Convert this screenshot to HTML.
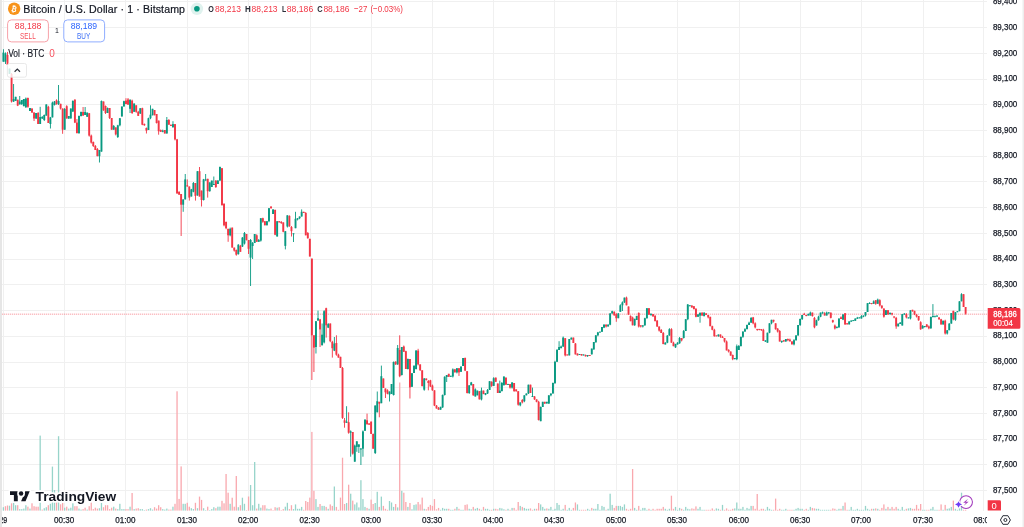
<!DOCTYPE html>
<html><head><meta charset="utf-8"><title>Bitcoin / U.S. Dollar · 1 · Bitstamp</title>
<style>
html,body{margin:0;padding:0;background:#fff;}
body{width:1024px;height:527px;overflow:hidden;position:relative;font-family:'Liberation Sans', sans-serif;}
svg{position:absolute;left:0;top:0;}
text{font-family:'Liberation Sans', sans-serif;}
</style></head><body>
<svg width="1024" height="527" viewBox="0 0 1024 527">
<defs><clipPath id="pane"><rect x="2" y="0" width="985" height="511"/></clipPath>
<clipPath id="taxis"><rect x="2" y="511" width="985" height="16"/></clipPath></defs>
<g clip-path="url(#pane)">
<rect x="2" y="1" width="985" height="1" fill="#f0f0f0"/><rect x="2" y="27" width="985" height="1" fill="#f0f0f0"/><rect x="2" y="53" width="985" height="1" fill="#f0f0f0"/><rect x="2" y="79" width="985" height="1" fill="#f0f0f0"/><rect x="2" y="104" width="985" height="1" fill="#f0f0f0"/><rect x="2" y="130" width="985" height="1" fill="#f0f0f0"/><rect x="2" y="156" width="985" height="1" fill="#f0f0f0"/><rect x="2" y="181" width="985" height="1" fill="#f0f0f0"/><rect x="2" y="207" width="985" height="1" fill="#f0f0f0"/><rect x="2" y="233" width="985" height="1" fill="#f0f0f0"/><rect x="2" y="259" width="985" height="1" fill="#f0f0f0"/><rect x="2" y="284" width="985" height="1" fill="#f0f0f0"/><rect x="2" y="310" width="985" height="1" fill="#f0f0f0"/><rect x="2" y="336" width="985" height="1" fill="#f0f0f0"/><rect x="2" y="362" width="985" height="1" fill="#f0f0f0"/><rect x="2" y="387" width="985" height="1" fill="#f0f0f0"/><rect x="2" y="413" width="985" height="1" fill="#f0f0f0"/><rect x="2" y="439" width="985" height="1" fill="#f0f0f0"/><rect x="2" y="464" width="985" height="1" fill="#f0f0f0"/><rect x="2" y="490" width="985" height="1" fill="#f0f0f0"/><rect x="3" y="0" width="1" height="511" fill="#f0f0f0"/><rect x="64" y="0" width="1" height="511" fill="#f0f0f0"/><rect x="125" y="0" width="1" height="511" fill="#f0f0f0"/><rect x="187" y="0" width="1" height="511" fill="#f0f0f0"/><rect x="248" y="0" width="1" height="511" fill="#f0f0f0"/><rect x="310" y="0" width="1" height="511" fill="#f0f0f0"/><rect x="371" y="0" width="1" height="511" fill="#f0f0f0"/><rect x="432" y="0" width="1" height="511" fill="#f0f0f0"/><rect x="493" y="0" width="1" height="511" fill="#f0f0f0"/><rect x="554" y="0" width="1" height="511" fill="#f0f0f0"/><rect x="616" y="0" width="1" height="511" fill="#f0f0f0"/><rect x="677" y="0" width="1" height="511" fill="#f0f0f0"/><rect x="739" y="0" width="1" height="511" fill="#f0f0f0"/><rect x="800" y="0" width="1" height="511" fill="#f0f0f0"/><rect x="861" y="0" width="1" height="511" fill="#f0f0f0"/><rect x="923" y="0" width="1" height="511" fill="#f0f0f0"/><rect x="983" y="0" width="1" height="511" fill="#f0f0f0"/>
<rect x="2.75" y="507.20" width="1.3" height="3.40" fill="#97d4ca"/><rect x="4.79" y="506.20" width="1.3" height="4.40" fill="#f9a8ae"/><rect x="6.84" y="505.50" width="1.3" height="5.10" fill="#f9a8ae"/><rect x="8.88" y="505.70" width="1.3" height="4.90" fill="#97d4ca"/><rect x="10.92" y="503.30" width="1.3" height="7.30" fill="#f9a8ae"/><rect x="12.96" y="502.80" width="1.3" height="7.80" fill="#97d4ca"/><rect x="15.01" y="505.20" width="1.3" height="5.40" fill="#97d4ca"/><rect x="17.05" y="505.20" width="1.3" height="5.40" fill="#f9a8ae"/><rect x="19.09" y="509.10" width="1.3" height="1.50" fill="#97d4ca"/><rect x="21.14" y="509.10" width="1.3" height="1.50" fill="#97d4ca"/><rect x="23.18" y="508.60" width="1.3" height="2.00" fill="#97d4ca"/><rect x="25.22" y="505.20" width="1.3" height="5.40" fill="#97d4ca"/><rect x="27.26" y="506.70" width="1.3" height="3.90" fill="#f9a8ae"/><rect x="29.31" y="508.60" width="1.3" height="2.00" fill="#97d4ca"/><rect x="31.35" y="503.30" width="1.3" height="7.30" fill="#f9a8ae"/><rect x="33.39" y="506.20" width="1.3" height="4.40" fill="#f9a8ae"/><rect x="35.44" y="506.70" width="1.3" height="3.90" fill="#f9a8ae"/><rect x="37.48" y="506.70" width="1.3" height="3.90" fill="#f9a8ae"/><rect x="39.52" y="435.60" width="1.3" height="75.00" fill="#97d4ca"/><rect x="41.57" y="509.60" width="1.3" height="1.00" fill="#f9a8ae"/><rect x="43.61" y="508.20" width="1.3" height="2.40" fill="#97d4ca"/><rect x="45.65" y="507.20" width="1.3" height="3.40" fill="#97d4ca"/><rect x="47.69" y="505.20" width="1.3" height="5.40" fill="#f9a8ae"/><rect x="49.74" y="503.80" width="1.3" height="6.80" fill="#97d4ca"/><rect x="51.78" y="466.60" width="1.3" height="44.00" fill="#97d4ca"/><rect x="53.82" y="490.00" width="1.3" height="20.60" fill="#97d4ca"/><rect x="55.87" y="501.80" width="1.3" height="8.80" fill="#f9a8ae"/><rect x="57.91" y="436.20" width="1.3" height="74.40" fill="#97d4ca"/><rect x="59.95" y="504.30" width="1.3" height="6.30" fill="#f9a8ae"/><rect x="61.99" y="502.80" width="1.3" height="7.80" fill="#f9a8ae"/><rect x="64.04" y="507.70" width="1.3" height="2.90" fill="#97d4ca"/><rect x="66.08" y="506.70" width="1.3" height="3.90" fill="#f9a8ae"/><rect x="68.12" y="508.60" width="1.3" height="2.00" fill="#97d4ca"/><rect x="70.17" y="507.70" width="1.3" height="2.90" fill="#97d4ca"/><rect x="72.21" y="503.30" width="1.3" height="7.30" fill="#97d4ca"/><rect x="74.25" y="506.20" width="1.3" height="4.40" fill="#f9a8ae"/><rect x="76.29" y="506.20" width="1.3" height="4.40" fill="#f9a8ae"/><rect x="78.34" y="508.60" width="1.3" height="2.00" fill="#97d4ca"/><rect x="80.38" y="509.60" width="1.3" height="1.00" fill="#97d4ca"/><rect x="82.42" y="509.10" width="1.3" height="1.50" fill="#f9a8ae"/><rect x="84.47" y="507.70" width="1.3" height="2.90" fill="#f9a8ae"/><rect x="86.51" y="509.60" width="1.3" height="1.00" fill="#97d4ca"/><rect x="88.55" y="506.20" width="1.3" height="4.40" fill="#f9a8ae"/><rect x="90.59" y="501.30" width="1.3" height="9.30" fill="#f9a8ae"/><rect x="92.64" y="509.10" width="1.3" height="1.50" fill="#f9a8ae"/><rect x="94.68" y="507.70" width="1.3" height="2.90" fill="#f9a8ae"/><rect x="96.72" y="508.60" width="1.3" height="2.00" fill="#f9a8ae"/><rect x="98.77" y="508.20" width="1.3" height="2.40" fill="#97d4ca"/><rect x="100.81" y="502.80" width="1.3" height="7.80" fill="#97d4ca"/><rect x="102.85" y="507.20" width="1.3" height="3.40" fill="#f9a8ae"/><rect x="104.89" y="505.20" width="1.3" height="5.40" fill="#f9a8ae"/><rect x="106.94" y="505.20" width="1.3" height="5.40" fill="#f9a8ae"/><rect x="108.98" y="509.10" width="1.3" height="1.50" fill="#f9a8ae"/><rect x="111.02" y="507.70" width="1.3" height="2.90" fill="#f9a8ae"/><rect x="113.07" y="506.70" width="1.3" height="3.90" fill="#97d4ca"/><rect x="115.11" y="508.60" width="1.3" height="2.00" fill="#f9a8ae"/><rect x="117.15" y="509.10" width="1.3" height="1.50" fill="#97d4ca"/><rect x="119.20" y="503.80" width="1.3" height="6.80" fill="#97d4ca"/><rect x="121.24" y="509.10" width="1.3" height="1.50" fill="#97d4ca"/><rect x="123.28" y="509.10" width="1.3" height="1.50" fill="#97d4ca"/><rect x="125.32" y="509.10" width="1.3" height="1.50" fill="#f9a8ae"/><rect x="127.37" y="509.10" width="1.3" height="1.50" fill="#f9a8ae"/><rect x="129.41" y="506.70" width="1.3" height="3.90" fill="#97d4ca"/><rect x="131.45" y="493.00" width="1.3" height="17.60" fill="#f9a8ae"/><rect x="133.50" y="509.10" width="1.3" height="1.50" fill="#97d4ca"/><rect x="135.54" y="508.60" width="1.3" height="2.00" fill="#f9a8ae"/><rect x="137.58" y="508.20" width="1.3" height="2.40" fill="#f9a8ae"/><rect x="139.62" y="509.10" width="1.3" height="1.50" fill="#97d4ca"/><rect x="141.67" y="509.10" width="1.3" height="1.50" fill="#97d4ca"/><rect x="143.71" y="510.10" width="1.3" height="0.50" fill="#97d4ca"/><rect x="145.75" y="509.60" width="1.3" height="1.00" fill="#f9a8ae"/><rect x="147.80" y="509.10" width="1.3" height="1.50" fill="#97d4ca"/><rect x="149.84" y="508.20" width="1.3" height="2.40" fill="#97d4ca"/><rect x="151.88" y="509.60" width="1.3" height="1.00" fill="#97d4ca"/><rect x="153.92" y="507.20" width="1.3" height="3.40" fill="#f9a8ae"/><rect x="155.97" y="508.60" width="1.3" height="2.00" fill="#f9a8ae"/><rect x="158.01" y="505.20" width="1.3" height="5.40" fill="#f9a8ae"/><rect x="160.05" y="507.20" width="1.3" height="3.40" fill="#f9a8ae"/><rect x="162.10" y="509.10" width="1.3" height="1.50" fill="#97d4ca"/><rect x="164.14" y="509.60" width="1.3" height="1.00" fill="#97d4ca"/><rect x="166.18" y="508.60" width="1.3" height="2.00" fill="#97d4ca"/><rect x="168.22" y="509.60" width="1.3" height="1.00" fill="#f9a8ae"/><rect x="170.27" y="509.60" width="1.3" height="1.00" fill="#f9a8ae"/><rect x="172.31" y="506.70" width="1.3" height="3.90" fill="#97d4ca"/><rect x="174.35" y="503.80" width="1.3" height="6.80" fill="#f9a8ae"/><rect x="176.40" y="391.30" width="1.3" height="119.30" fill="#f9a8ae"/><rect x="178.44" y="498.90" width="1.3" height="11.70" fill="#f9a8ae"/><rect x="180.48" y="466.40" width="1.3" height="44.20" fill="#f9a8ae"/><rect x="182.53" y="503.80" width="1.3" height="6.80" fill="#97d4ca"/><rect x="184.57" y="503.80" width="1.3" height="6.80" fill="#97d4ca"/><rect x="186.61" y="502.80" width="1.3" height="7.80" fill="#f9a8ae"/><rect x="188.65" y="506.70" width="1.3" height="3.90" fill="#f9a8ae"/><rect x="190.70" y="508.20" width="1.3" height="2.40" fill="#97d4ca"/><rect x="192.74" y="509.10" width="1.3" height="1.50" fill="#97d4ca"/><rect x="194.78" y="502.80" width="1.3" height="7.80" fill="#f9a8ae"/><rect x="196.83" y="508.20" width="1.3" height="2.40" fill="#97d4ca"/><rect x="198.87" y="496.60" width="1.3" height="14.00" fill="#f9a8ae"/><rect x="200.91" y="499.90" width="1.3" height="10.70" fill="#f9a8ae"/><rect x="202.95" y="508.20" width="1.3" height="2.40" fill="#97d4ca"/><rect x="205.00" y="510.10" width="1.3" height="0.50" fill="#97d4ca"/><rect x="207.04" y="506.70" width="1.3" height="3.90" fill="#f9a8ae"/><rect x="209.08" y="510.10" width="1.3" height="0.50" fill="#97d4ca"/><rect x="211.13" y="509.10" width="1.3" height="1.50" fill="#97d4ca"/><rect x="213.17" y="507.20" width="1.3" height="3.40" fill="#97d4ca"/><rect x="215.21" y="508.20" width="1.3" height="2.40" fill="#f9a8ae"/><rect x="217.25" y="506.70" width="1.3" height="3.90" fill="#97d4ca"/><rect x="219.30" y="506.70" width="1.3" height="3.90" fill="#97d4ca"/><rect x="221.34" y="500.80" width="1.3" height="9.80" fill="#f9a8ae"/><rect x="223.38" y="503.30" width="1.3" height="7.30" fill="#f9a8ae"/><rect x="225.43" y="474.00" width="1.3" height="36.60" fill="#f9a8ae"/><rect x="227.47" y="492.70" width="1.3" height="17.90" fill="#f9a8ae"/><rect x="229.51" y="503.80" width="1.3" height="6.80" fill="#97d4ca"/><rect x="231.55" y="497.70" width="1.3" height="12.90" fill="#f9a8ae"/><rect x="233.60" y="506.70" width="1.3" height="3.90" fill="#f9a8ae"/><rect x="235.64" y="476.00" width="1.3" height="34.60" fill="#f9a8ae"/><rect x="237.68" y="507.20" width="1.3" height="3.40" fill="#97d4ca"/><rect x="239.73" y="505.20" width="1.3" height="5.40" fill="#f9a8ae"/><rect x="241.77" y="497.70" width="1.3" height="12.90" fill="#97d4ca"/><rect x="243.81" y="503.80" width="1.3" height="6.80" fill="#97d4ca"/><rect x="245.86" y="510.10" width="1.3" height="0.50" fill="#f9a8ae"/><rect x="247.90" y="496.50" width="1.3" height="14.10" fill="#f9a8ae"/><rect x="249.94" y="485.00" width="1.3" height="25.60" fill="#97d4ca"/><rect x="251.98" y="505.20" width="1.3" height="5.40" fill="#97d4ca"/><rect x="254.03" y="462.00" width="1.3" height="48.60" fill="#97d4ca"/><rect x="256.07" y="508.60" width="1.3" height="2.00" fill="#f9a8ae"/><rect x="258.11" y="503.80" width="1.3" height="6.80" fill="#97d4ca"/><rect x="260.16" y="507.70" width="1.3" height="2.90" fill="#97d4ca"/><rect x="262.20" y="505.20" width="1.3" height="5.40" fill="#f9a8ae"/><rect x="264.24" y="505.20" width="1.3" height="5.40" fill="#f9a8ae"/><rect x="266.28" y="508.60" width="1.3" height="2.00" fill="#97d4ca"/><rect x="268.33" y="509.10" width="1.3" height="1.50" fill="#97d4ca"/><rect x="270.37" y="508.60" width="1.3" height="2.00" fill="#f9a8ae"/><rect x="272.41" y="510.10" width="1.3" height="0.50" fill="#f9a8ae"/><rect x="274.46" y="507.20" width="1.3" height="3.40" fill="#f9a8ae"/><rect x="276.50" y="507.70" width="1.3" height="2.90" fill="#97d4ca"/><rect x="278.54" y="507.20" width="1.3" height="3.40" fill="#f9a8ae"/><rect x="280.58" y="510.10" width="1.3" height="0.50" fill="#f9a8ae"/><rect x="282.63" y="509.10" width="1.3" height="1.50" fill="#f9a8ae"/><rect x="284.67" y="506.70" width="1.3" height="3.90" fill="#97d4ca"/><rect x="286.71" y="502.80" width="1.3" height="7.80" fill="#97d4ca"/><rect x="288.76" y="509.10" width="1.3" height="1.50" fill="#f9a8ae"/><rect x="290.80" y="505.20" width="1.3" height="5.40" fill="#f9a8ae"/><rect x="292.84" y="509.10" width="1.3" height="1.50" fill="#97d4ca"/><rect x="294.88" y="504.40" width="1.3" height="6.20" fill="#97d4ca"/><rect x="296.93" y="508.80" width="1.3" height="1.80" fill="#97d4ca"/><rect x="298.97" y="508.80" width="1.3" height="1.80" fill="#97d4ca"/><rect x="301.01" y="506.90" width="1.3" height="3.70" fill="#97d4ca"/><rect x="303.06" y="509.80" width="1.3" height="0.80" fill="#f9a8ae"/><rect x="305.10" y="501.00" width="1.3" height="9.60" fill="#f9a8ae"/><rect x="307.14" y="502.00" width="1.3" height="8.60" fill="#f9a8ae"/><rect x="309.19" y="497.60" width="1.3" height="13.00" fill="#f9a8ae"/><rect x="311.23" y="431.90" width="1.3" height="78.70" fill="#f9a8ae"/><rect x="313.27" y="490.80" width="1.3" height="19.80" fill="#f9a8ae"/><rect x="315.31" y="499.10" width="1.3" height="11.50" fill="#97d4ca"/><rect x="317.36" y="506.90" width="1.3" height="3.70" fill="#97d4ca"/><rect x="319.40" y="504.00" width="1.3" height="6.60" fill="#f9a8ae"/><rect x="321.44" y="505.90" width="1.3" height="4.70" fill="#97d4ca"/><rect x="323.49" y="505.90" width="1.3" height="4.70" fill="#97d4ca"/><rect x="325.53" y="506.90" width="1.3" height="3.70" fill="#f9a8ae"/><rect x="327.57" y="508.80" width="1.3" height="1.80" fill="#97d4ca"/><rect x="329.61" y="504.40" width="1.3" height="6.20" fill="#f9a8ae"/><rect x="331.66" y="505.90" width="1.3" height="4.70" fill="#f9a8ae"/><rect x="333.70" y="486.50" width="1.3" height="24.10" fill="#97d4ca"/><rect x="335.74" y="506.90" width="1.3" height="3.70" fill="#f9a8ae"/><rect x="337.79" y="509.80" width="1.3" height="0.80" fill="#f9a8ae"/><rect x="339.83" y="497.60" width="1.3" height="13.00" fill="#f9a8ae"/><rect x="341.87" y="457.70" width="1.3" height="52.90" fill="#f9a8ae"/><rect x="343.91" y="504.00" width="1.3" height="6.60" fill="#f9a8ae"/><rect x="345.96" y="503.00" width="1.3" height="7.60" fill="#97d4ca"/><rect x="348.00" y="484.70" width="1.3" height="25.90" fill="#f9a8ae"/><rect x="350.04" y="493.70" width="1.3" height="16.90" fill="#97d4ca"/><rect x="352.09" y="500.60" width="1.3" height="10.00" fill="#f9a8ae"/><rect x="354.13" y="504.40" width="1.3" height="6.20" fill="#97d4ca"/><rect x="356.17" y="502.50" width="1.3" height="8.10" fill="#97d4ca"/><rect x="358.21" y="507.40" width="1.3" height="3.20" fill="#97d4ca"/><rect x="360.26" y="480.20" width="1.3" height="30.40" fill="#97d4ca"/><rect x="362.30" y="499.10" width="1.3" height="11.50" fill="#97d4ca"/><rect x="364.34" y="506.90" width="1.3" height="3.70" fill="#97d4ca"/><rect x="366.39" y="507.90" width="1.3" height="2.70" fill="#f9a8ae"/><rect x="368.43" y="508.80" width="1.3" height="1.80" fill="#97d4ca"/><rect x="370.47" y="499.60" width="1.3" height="11.00" fill="#f9a8ae"/><rect x="372.51" y="504.00" width="1.3" height="6.60" fill="#f9a8ae"/><rect x="374.56" y="503.00" width="1.3" height="7.60" fill="#97d4ca"/><rect x="376.60" y="491.80" width="1.3" height="18.80" fill="#97d4ca"/><rect x="378.64" y="506.90" width="1.3" height="3.70" fill="#f9a8ae"/><rect x="380.69" y="496.60" width="1.3" height="14.00" fill="#97d4ca"/><rect x="382.73" y="505.90" width="1.3" height="4.70" fill="#f9a8ae"/><rect x="384.77" y="508.80" width="1.3" height="1.80" fill="#f9a8ae"/><rect x="386.82" y="509.80" width="1.3" height="0.80" fill="#f9a8ae"/><rect x="388.86" y="501.00" width="1.3" height="9.60" fill="#97d4ca"/><rect x="390.90" y="502.50" width="1.3" height="8.10" fill="#97d4ca"/><rect x="392.94" y="506.90" width="1.3" height="3.70" fill="#97d4ca"/><rect x="394.99" y="504.00" width="1.3" height="6.60" fill="#f9a8ae"/><rect x="397.03" y="507.40" width="1.3" height="3.20" fill="#97d4ca"/><rect x="399.07" y="382.50" width="1.3" height="128.10" fill="#f9a8ae"/><rect x="401.12" y="490.80" width="1.3" height="19.80" fill="#97d4ca"/><rect x="403.16" y="492.70" width="1.3" height="17.90" fill="#f9a8ae"/><rect x="405.20" y="502.00" width="1.3" height="8.60" fill="#f9a8ae"/><rect x="407.24" y="506.90" width="1.3" height="3.70" fill="#97d4ca"/><rect x="409.29" y="503.00" width="1.3" height="7.60" fill="#f9a8ae"/><rect x="411.33" y="509.30" width="1.3" height="1.30" fill="#97d4ca"/><rect x="413.37" y="504.90" width="1.3" height="5.70" fill="#97d4ca"/><rect x="415.42" y="504.40" width="1.3" height="6.20" fill="#97d4ca"/><rect x="417.46" y="502.00" width="1.3" height="8.60" fill="#f9a8ae"/><rect x="419.50" y="504.40" width="1.3" height="6.20" fill="#f9a8ae"/><rect x="421.54" y="497.60" width="1.3" height="13.00" fill="#f9a8ae"/><rect x="423.59" y="508.80" width="1.3" height="1.80" fill="#97d4ca"/><rect x="425.63" y="509.30" width="1.3" height="1.30" fill="#f9a8ae"/><rect x="427.67" y="506.90" width="1.3" height="3.70" fill="#f9a8ae"/><rect x="429.72" y="504.90" width="1.3" height="5.70" fill="#f9a8ae"/><rect x="431.76" y="505.90" width="1.3" height="4.70" fill="#f9a8ae"/><rect x="433.80" y="499.10" width="1.3" height="11.50" fill="#f9a8ae"/><rect x="435.84" y="509.30" width="1.3" height="1.30" fill="#f9a8ae"/><rect x="437.89" y="507.90" width="1.3" height="2.70" fill="#f9a8ae"/><rect x="439.93" y="509.80" width="1.3" height="0.80" fill="#97d4ca"/><rect x="441.97" y="507.90" width="1.3" height="2.70" fill="#97d4ca"/><rect x="444.02" y="508.80" width="1.3" height="1.80" fill="#97d4ca"/><rect x="446.06" y="508.80" width="1.3" height="1.80" fill="#97d4ca"/><rect x="448.10" y="508.80" width="1.3" height="1.80" fill="#f9a8ae"/><rect x="450.15" y="509.80" width="1.3" height="0.80" fill="#97d4ca"/><rect x="452.19" y="509.80" width="1.3" height="0.80" fill="#97d4ca"/><rect x="454.23" y="508.80" width="1.3" height="1.80" fill="#f9a8ae"/><rect x="456.27" y="506.90" width="1.3" height="3.70" fill="#97d4ca"/><rect x="458.32" y="508.80" width="1.3" height="1.80" fill="#f9a8ae"/><rect x="460.36" y="509.80" width="1.3" height="0.80" fill="#97d4ca"/><rect x="462.40" y="509.80" width="1.3" height="0.80" fill="#97d4ca"/><rect x="464.45" y="504.90" width="1.3" height="5.70" fill="#f9a8ae"/><rect x="466.49" y="504.40" width="1.3" height="6.20" fill="#f9a8ae"/><rect x="468.53" y="508.80" width="1.3" height="1.80" fill="#97d4ca"/><rect x="470.57" y="509.30" width="1.3" height="1.30" fill="#97d4ca"/><rect x="472.62" y="506.90" width="1.3" height="3.70" fill="#f9a8ae"/><rect x="474.66" y="508.80" width="1.3" height="1.80" fill="#97d4ca"/><rect x="476.70" y="507.90" width="1.3" height="2.70" fill="#97d4ca"/><rect x="478.75" y="508.80" width="1.3" height="1.80" fill="#f9a8ae"/><rect x="480.79" y="509.80" width="1.3" height="0.80" fill="#97d4ca"/><rect x="482.83" y="506.90" width="1.3" height="3.70" fill="#f9a8ae"/><rect x="484.87" y="508.80" width="1.3" height="1.80" fill="#97d4ca"/><rect x="486.92" y="508.80" width="1.3" height="1.80" fill="#97d4ca"/><rect x="488.96" y="509.80" width="1.3" height="0.80" fill="#97d4ca"/><rect x="491.00" y="509.80" width="1.3" height="0.80" fill="#f9a8ae"/><rect x="493.05" y="508.80" width="1.3" height="1.80" fill="#97d4ca"/><rect x="495.09" y="508.80" width="1.3" height="1.80" fill="#f9a8ae"/><rect x="497.13" y="509.30" width="1.3" height="1.30" fill="#f9a8ae"/><rect x="499.17" y="507.90" width="1.3" height="2.70" fill="#97d4ca"/><rect x="501.22" y="508.40" width="1.3" height="2.20" fill="#97d4ca"/><rect x="503.26" y="509.30" width="1.3" height="1.30" fill="#97d4ca"/><rect x="505.30" y="509.80" width="1.3" height="0.80" fill="#f9a8ae"/><rect x="507.35" y="508.80" width="1.3" height="1.80" fill="#97d4ca"/><rect x="509.39" y="509.80" width="1.3" height="0.80" fill="#f9a8ae"/><rect x="511.43" y="507.90" width="1.3" height="2.70" fill="#97d4ca"/><rect x="513.48" y="507.90" width="1.3" height="2.70" fill="#f9a8ae"/><rect x="515.52" y="509.80" width="1.3" height="0.80" fill="#f9a8ae"/><rect x="517.56" y="502.00" width="1.3" height="8.60" fill="#f9a8ae"/><rect x="519.60" y="505.90" width="1.3" height="4.70" fill="#97d4ca"/><rect x="521.65" y="506.90" width="1.3" height="3.70" fill="#f9a8ae"/><rect x="523.69" y="507.90" width="1.3" height="2.70" fill="#97d4ca"/><rect x="525.73" y="508.80" width="1.3" height="1.80" fill="#97d4ca"/><rect x="527.78" y="508.80" width="1.3" height="1.80" fill="#97d4ca"/><rect x="529.82" y="508.40" width="1.3" height="2.20" fill="#f9a8ae"/><rect x="531.86" y="509.80" width="1.3" height="0.80" fill="#f9a8ae"/><rect x="533.90" y="508.80" width="1.3" height="1.80" fill="#97d4ca"/><rect x="535.95" y="508.80" width="1.3" height="1.80" fill="#f9a8ae"/><rect x="537.99" y="503.00" width="1.3" height="7.60" fill="#f9a8ae"/><rect x="540.03" y="504.40" width="1.3" height="6.20" fill="#97d4ca"/><rect x="542.08" y="506.90" width="1.3" height="3.70" fill="#97d4ca"/><rect x="544.12" y="508.80" width="1.3" height="1.80" fill="#97d4ca"/><rect x="546.16" y="508.40" width="1.3" height="2.20" fill="#f9a8ae"/><rect x="548.20" y="508.80" width="1.3" height="1.80" fill="#97d4ca"/><rect x="550.25" y="506.90" width="1.3" height="3.70" fill="#97d4ca"/><rect x="552.29" y="509.80" width="1.3" height="0.80" fill="#97d4ca"/><rect x="554.33" y="508.80" width="1.3" height="1.80" fill="#97d4ca"/><rect x="556.38" y="503.00" width="1.3" height="7.60" fill="#97d4ca"/><rect x="558.42" y="504.90" width="1.3" height="5.70" fill="#97d4ca"/><rect x="560.46" y="509.80" width="1.3" height="0.80" fill="#97d4ca"/><rect x="562.50" y="508.80" width="1.3" height="1.80" fill="#97d4ca"/><rect x="564.55" y="504.90" width="1.3" height="5.70" fill="#f9a8ae"/><rect x="566.59" y="509.80" width="1.3" height="0.80" fill="#97d4ca"/><rect x="568.63" y="507.90" width="1.3" height="2.70" fill="#97d4ca"/><rect x="570.68" y="509.80" width="1.3" height="0.80" fill="#97d4ca"/><rect x="572.72" y="507.90" width="1.3" height="2.70" fill="#f9a8ae"/><rect x="574.76" y="502.50" width="1.3" height="8.10" fill="#f9a8ae"/><rect x="576.80" y="504.40" width="1.3" height="6.20" fill="#97d4ca"/><rect x="578.85" y="509.80" width="1.3" height="0.80" fill="#97d4ca"/><rect x="580.89" y="509.80" width="1.3" height="0.80" fill="#f9a8ae"/><rect x="582.93" y="509.80" width="1.3" height="0.80" fill="#f9a8ae"/><rect x="584.98" y="509.80" width="1.3" height="0.80" fill="#f9a8ae"/><rect x="587.02" y="508.80" width="1.3" height="1.80" fill="#97d4ca"/><rect x="589.06" y="509.80" width="1.3" height="0.80" fill="#97d4ca"/><rect x="591.11" y="507.90" width="1.3" height="2.70" fill="#f9a8ae"/><rect x="593.15" y="508.80" width="1.3" height="1.80" fill="#97d4ca"/><rect x="595.19" y="508.80" width="1.3" height="1.80" fill="#97d4ca"/><rect x="597.23" y="504.00" width="1.3" height="6.60" fill="#97d4ca"/><rect x="599.28" y="509.80" width="1.3" height="0.80" fill="#97d4ca"/><rect x="601.32" y="505.90" width="1.3" height="4.70" fill="#97d4ca"/><rect x="603.36" y="506.90" width="1.3" height="3.70" fill="#97d4ca"/><rect x="605.41" y="509.80" width="1.3" height="0.80" fill="#f9a8ae"/><rect x="607.45" y="508.80" width="1.3" height="1.80" fill="#97d4ca"/><rect x="609.49" y="493.70" width="1.3" height="16.90" fill="#97d4ca"/><rect x="611.53" y="504.90" width="1.3" height="5.70" fill="#97d4ca"/><rect x="613.58" y="507.90" width="1.3" height="2.70" fill="#f9a8ae"/><rect x="615.62" y="505.90" width="1.3" height="4.70" fill="#f9a8ae"/><rect x="617.66" y="505.90" width="1.3" height="4.70" fill="#97d4ca"/><rect x="619.71" y="505.90" width="1.3" height="4.70" fill="#97d4ca"/><rect x="621.75" y="506.90" width="1.3" height="3.70" fill="#97d4ca"/><rect x="623.79" y="504.40" width="1.3" height="6.20" fill="#97d4ca"/><rect x="625.83" y="508.80" width="1.3" height="1.80" fill="#f9a8ae"/><rect x="627.88" y="509.80" width="1.3" height="0.80" fill="#f9a8ae"/><rect x="629.92" y="508.80" width="1.3" height="1.80" fill="#f9a8ae"/><rect x="631.96" y="469.00" width="1.3" height="41.60" fill="#f9a8ae"/><rect x="634.01" y="507.90" width="1.3" height="2.70" fill="#97d4ca"/><rect x="636.05" y="509.80" width="1.3" height="0.80" fill="#97d4ca"/><rect x="638.09" y="505.90" width="1.3" height="4.70" fill="#f9a8ae"/><rect x="640.13" y="509.80" width="1.3" height="0.80" fill="#97d4ca"/><rect x="642.18" y="507.90" width="1.3" height="2.70" fill="#97d4ca"/><rect x="644.22" y="507.90" width="1.3" height="2.70" fill="#97d4ca"/><rect x="646.26" y="509.80" width="1.3" height="0.80" fill="#97d4ca"/><rect x="648.31" y="508.80" width="1.3" height="1.80" fill="#f9a8ae"/><rect x="650.35" y="509.80" width="1.3" height="0.80" fill="#97d4ca"/><rect x="652.39" y="508.80" width="1.3" height="1.80" fill="#f9a8ae"/><rect x="654.44" y="509.80" width="1.3" height="0.80" fill="#f9a8ae"/><rect x="656.48" y="508.80" width="1.3" height="1.80" fill="#f9a8ae"/><rect x="658.52" y="508.80" width="1.3" height="1.80" fill="#f9a8ae"/><rect x="660.56" y="508.80" width="1.3" height="1.80" fill="#f9a8ae"/><rect x="662.61" y="506.90" width="1.3" height="3.70" fill="#f9a8ae"/><rect x="664.65" y="508.80" width="1.3" height="1.80" fill="#97d4ca"/><rect x="666.69" y="509.80" width="1.3" height="0.80" fill="#97d4ca"/><rect x="668.74" y="508.80" width="1.3" height="1.80" fill="#97d4ca"/><rect x="670.78" y="495.70" width="1.3" height="14.90" fill="#f9a8ae"/><rect x="672.82" y="508.80" width="1.3" height="1.80" fill="#f9a8ae"/><rect x="674.86" y="506.90" width="1.3" height="3.70" fill="#97d4ca"/><rect x="676.91" y="509.80" width="1.3" height="0.80" fill="#97d4ca"/><rect x="678.95" y="507.90" width="1.3" height="2.70" fill="#97d4ca"/><rect x="680.99" y="508.80" width="1.3" height="1.80" fill="#f9a8ae"/><rect x="683.04" y="509.80" width="1.3" height="0.80" fill="#97d4ca"/><rect x="685.08" y="506.90" width="1.3" height="3.70" fill="#97d4ca"/><rect x="687.12" y="508.80" width="1.3" height="1.80" fill="#97d4ca"/><rect x="689.16" y="509.30" width="1.3" height="1.30" fill="#97d4ca"/><rect x="691.21" y="508.40" width="1.3" height="2.20" fill="#f9a8ae"/><rect x="693.25" y="508.80" width="1.3" height="1.80" fill="#f9a8ae"/><rect x="695.29" y="506.40" width="1.3" height="4.20" fill="#f9a8ae"/><rect x="697.34" y="508.80" width="1.3" height="1.80" fill="#97d4ca"/><rect x="699.38" y="506.90" width="1.3" height="3.70" fill="#97d4ca"/><rect x="701.42" y="509.80" width="1.3" height="0.80" fill="#97d4ca"/><rect x="703.46" y="509.80" width="1.3" height="0.80" fill="#97d4ca"/><rect x="705.51" y="509.80" width="1.3" height="0.80" fill="#f9a8ae"/><rect x="707.55" y="509.80" width="1.3" height="0.80" fill="#f9a8ae"/><rect x="709.59" y="509.80" width="1.3" height="0.80" fill="#f9a8ae"/><rect x="711.64" y="508.40" width="1.3" height="2.20" fill="#f9a8ae"/><rect x="713.68" y="509.80" width="1.3" height="0.80" fill="#f9a8ae"/><rect x="715.72" y="508.40" width="1.3" height="2.20" fill="#97d4ca"/><rect x="717.76" y="508.80" width="1.3" height="1.80" fill="#97d4ca"/><rect x="719.81" y="509.80" width="1.3" height="0.80" fill="#f9a8ae"/><rect x="721.85" y="504.90" width="1.3" height="5.70" fill="#97d4ca"/><rect x="723.89" y="509.80" width="1.3" height="0.80" fill="#f9a8ae"/><rect x="725.94" y="508.40" width="1.3" height="2.20" fill="#f9a8ae"/><rect x="727.98" y="509.80" width="1.3" height="0.80" fill="#f9a8ae"/><rect x="730.02" y="509.80" width="1.3" height="0.80" fill="#f9a8ae"/><rect x="732.07" y="508.80" width="1.3" height="1.80" fill="#f9a8ae"/><rect x="734.11" y="508.40" width="1.3" height="2.20" fill="#97d4ca"/><rect x="736.15" y="502.50" width="1.3" height="8.10" fill="#97d4ca"/><rect x="738.19" y="508.80" width="1.3" height="1.80" fill="#97d4ca"/><rect x="740.24" y="508.80" width="1.3" height="1.80" fill="#97d4ca"/><rect x="742.28" y="506.90" width="1.3" height="3.70" fill="#97d4ca"/><rect x="744.32" y="509.80" width="1.3" height="0.80" fill="#97d4ca"/><rect x="746.37" y="507.90" width="1.3" height="2.70" fill="#97d4ca"/><rect x="748.41" y="508.80" width="1.3" height="1.80" fill="#97d4ca"/><rect x="750.45" y="505.90" width="1.3" height="4.70" fill="#97d4ca"/><rect x="752.49" y="505.90" width="1.3" height="4.70" fill="#f9a8ae"/><rect x="754.54" y="508.80" width="1.3" height="1.80" fill="#f9a8ae"/><rect x="756.58" y="494.00" width="1.3" height="16.60" fill="#f9a8ae"/><rect x="758.62" y="509.80" width="1.3" height="0.80" fill="#f9a8ae"/><rect x="760.67" y="508.80" width="1.3" height="1.80" fill="#f9a8ae"/><rect x="762.71" y="508.80" width="1.3" height="1.80" fill="#f9a8ae"/><rect x="764.75" y="509.80" width="1.3" height="0.80" fill="#97d4ca"/><rect x="766.79" y="506.90" width="1.3" height="3.70" fill="#97d4ca"/><rect x="768.84" y="508.80" width="1.3" height="1.80" fill="#97d4ca"/><rect x="770.88" y="509.80" width="1.3" height="0.80" fill="#97d4ca"/><rect x="772.92" y="509.80" width="1.3" height="0.80" fill="#f9a8ae"/><rect x="774.97" y="498.60" width="1.3" height="12.00" fill="#f9a8ae"/><rect x="777.01" y="509.80" width="1.3" height="0.80" fill="#f9a8ae"/><rect x="779.05" y="508.80" width="1.3" height="1.80" fill="#f9a8ae"/><rect x="781.09" y="509.80" width="1.3" height="0.80" fill="#97d4ca"/><rect x="783.14" y="509.80" width="1.3" height="0.80" fill="#97d4ca"/><rect x="785.18" y="508.80" width="1.3" height="1.80" fill="#97d4ca"/><rect x="787.22" y="509.80" width="1.3" height="0.80" fill="#f9a8ae"/><rect x="789.27" y="509.80" width="1.3" height="0.80" fill="#f9a8ae"/><rect x="791.31" y="509.80" width="1.3" height="0.80" fill="#f9a8ae"/><rect x="793.35" y="509.80" width="1.3" height="0.80" fill="#97d4ca"/><rect x="795.40" y="508.80" width="1.3" height="1.80" fill="#97d4ca"/><rect x="797.44" y="507.90" width="1.3" height="2.70" fill="#97d4ca"/><rect x="799.48" y="508.80" width="1.3" height="1.80" fill="#97d4ca"/><rect x="801.52" y="508.80" width="1.3" height="1.80" fill="#97d4ca"/><rect x="803.57" y="509.80" width="1.3" height="0.80" fill="#f9a8ae"/><rect x="805.61" y="508.80" width="1.3" height="1.80" fill="#f9a8ae"/><rect x="807.65" y="509.80" width="1.3" height="0.80" fill="#97d4ca"/><rect x="809.70" y="506.90" width="1.3" height="3.70" fill="#97d4ca"/><rect x="811.74" y="507.90" width="1.3" height="2.70" fill="#f9a8ae"/><rect x="813.78" y="508.40" width="1.3" height="2.20" fill="#f9a8ae"/><rect x="815.82" y="508.80" width="1.3" height="1.80" fill="#97d4ca"/><rect x="817.87" y="508.80" width="1.3" height="1.80" fill="#97d4ca"/><rect x="819.91" y="509.80" width="1.3" height="0.80" fill="#97d4ca"/><rect x="821.95" y="509.80" width="1.3" height="0.80" fill="#97d4ca"/><rect x="824.00" y="509.80" width="1.3" height="0.80" fill="#97d4ca"/><rect x="826.04" y="509.80" width="1.3" height="0.80" fill="#97d4ca"/><rect x="828.08" y="509.80" width="1.3" height="0.80" fill="#97d4ca"/><rect x="830.12" y="509.80" width="1.3" height="0.80" fill="#f9a8ae"/><rect x="832.17" y="508.40" width="1.3" height="2.20" fill="#f9a8ae"/><rect x="834.21" y="508.80" width="1.3" height="1.80" fill="#f9a8ae"/><rect x="836.25" y="509.80" width="1.3" height="0.80" fill="#97d4ca"/><rect x="838.30" y="508.80" width="1.3" height="1.80" fill="#97d4ca"/><rect x="840.34" y="508.80" width="1.3" height="1.80" fill="#f9a8ae"/><rect x="842.38" y="505.90" width="1.3" height="4.70" fill="#97d4ca"/><rect x="844.42" y="502.50" width="1.3" height="8.10" fill="#f9a8ae"/><rect x="846.47" y="509.80" width="1.3" height="0.80" fill="#f9a8ae"/><rect x="848.51" y="509.80" width="1.3" height="0.80" fill="#97d4ca"/><rect x="850.55" y="506.90" width="1.3" height="3.70" fill="#97d4ca"/><rect x="852.60" y="509.80" width="1.3" height="0.80" fill="#97d4ca"/><rect x="854.64" y="509.80" width="1.3" height="0.80" fill="#97d4ca"/><rect x="856.68" y="508.80" width="1.3" height="1.80" fill="#97d4ca"/><rect x="858.73" y="509.80" width="1.3" height="0.80" fill="#97d4ca"/><rect x="860.77" y="509.80" width="1.3" height="0.80" fill="#97d4ca"/><rect x="862.81" y="509.80" width="1.3" height="0.80" fill="#97d4ca"/><rect x="864.85" y="505.90" width="1.3" height="4.70" fill="#97d4ca"/><rect x="866.90" y="508.80" width="1.3" height="1.80" fill="#97d4ca"/><rect x="868.94" y="509.80" width="1.3" height="0.80" fill="#97d4ca"/><rect x="870.98" y="508.80" width="1.3" height="1.80" fill="#f9a8ae"/><rect x="873.03" y="508.80" width="1.3" height="1.80" fill="#97d4ca"/><rect x="875.07" y="508.40" width="1.3" height="2.20" fill="#f9a8ae"/><rect x="877.11" y="508.80" width="1.3" height="1.80" fill="#97d4ca"/><rect x="879.15" y="509.80" width="1.3" height="0.80" fill="#f9a8ae"/><rect x="881.20" y="507.90" width="1.3" height="2.70" fill="#f9a8ae"/><rect x="883.24" y="504.40" width="1.3" height="6.20" fill="#f9a8ae"/><rect x="885.28" y="508.80" width="1.3" height="1.80" fill="#97d4ca"/><rect x="887.33" y="506.90" width="1.3" height="3.70" fill="#f9a8ae"/><rect x="889.37" y="508.80" width="1.3" height="1.80" fill="#97d4ca"/><rect x="891.41" y="506.90" width="1.3" height="3.70" fill="#f9a8ae"/><rect x="893.45" y="508.80" width="1.3" height="1.80" fill="#f9a8ae"/><rect x="895.50" y="506.90" width="1.3" height="3.70" fill="#f9a8ae"/><rect x="897.54" y="508.80" width="1.3" height="1.80" fill="#97d4ca"/><rect x="899.58" y="509.80" width="1.3" height="0.80" fill="#97d4ca"/><rect x="901.63" y="506.90" width="1.3" height="3.70" fill="#97d4ca"/><rect x="903.67" y="509.80" width="1.3" height="0.80" fill="#97d4ca"/><rect x="905.71" y="508.80" width="1.3" height="1.80" fill="#f9a8ae"/><rect x="907.75" y="508.40" width="1.3" height="2.20" fill="#97d4ca"/><rect x="909.80" y="507.90" width="1.3" height="2.70" fill="#97d4ca"/><rect x="911.84" y="508.80" width="1.3" height="1.80" fill="#f9a8ae"/><rect x="913.88" y="508.80" width="1.3" height="1.80" fill="#f9a8ae"/><rect x="915.93" y="504.90" width="1.3" height="5.70" fill="#f9a8ae"/><rect x="917.97" y="508.80" width="1.3" height="1.80" fill="#f9a8ae"/><rect x="920.01" y="504.00" width="1.3" height="6.60" fill="#f9a8ae"/><rect x="922.05" y="509.80" width="1.3" height="0.80" fill="#97d4ca"/><rect x="924.10" y="509.80" width="1.3" height="0.80" fill="#97d4ca"/><rect x="926.14" y="509.80" width="1.3" height="0.80" fill="#f9a8ae"/><rect x="928.18" y="509.80" width="1.3" height="0.80" fill="#f9a8ae"/><rect x="930.23" y="508.80" width="1.3" height="1.80" fill="#97d4ca"/><rect x="932.27" y="506.90" width="1.3" height="3.70" fill="#97d4ca"/><rect x="934.31" y="509.80" width="1.3" height="0.80" fill="#97d4ca"/><rect x="936.36" y="509.80" width="1.3" height="0.80" fill="#97d4ca"/><rect x="938.40" y="509.80" width="1.3" height="0.80" fill="#f9a8ae"/><rect x="940.44" y="504.40" width="1.3" height="6.20" fill="#f9a8ae"/><rect x="942.48" y="509.80" width="1.3" height="0.80" fill="#97d4ca"/><rect x="944.53" y="504.90" width="1.3" height="5.70" fill="#f9a8ae"/><rect x="946.57" y="508.80" width="1.3" height="1.80" fill="#97d4ca"/><rect x="948.61" y="508.40" width="1.3" height="2.20" fill="#97d4ca"/><rect x="950.66" y="506.90" width="1.3" height="3.70" fill="#97d4ca"/><rect x="952.70" y="500.60" width="1.3" height="10.00" fill="#f9a8ae"/><rect x="954.74" y="508.80" width="1.3" height="1.80" fill="#97d4ca"/><rect x="956.78" y="509.80" width="1.3" height="0.80" fill="#97d4ca"/><rect x="958.83" y="508.40" width="1.3" height="2.20" fill="#97d4ca"/><rect x="960.87" y="492.70" width="1.3" height="17.90" fill="#97d4ca"/><rect x="962.91" y="509.80" width="1.3" height="0.80" fill="#f9a8ae"/><rect x="964.96" y="509.80" width="1.3" height="0.80" fill="#f9a8ae"/>
<line x1="2.2" y1="314.2" x2="987" y2="314.2" stroke="#f23645" stroke-opacity="0.4" stroke-width="1.6" stroke-dasharray="1 1"/>
<rect x="2.95" y="49.20" width="0.9" height="12.50" fill="#089981"/><rect x="2.45" y="52.60" width="1.9" height="9.10" fill="#089981"/><rect x="4.99" y="52.40" width="0.9" height="11.60" fill="#089981"/><rect x="4.49" y="53.40" width="1.9" height="8.30" fill="#089981"/><rect x="7.04" y="51.90" width="0.9" height="12.90" fill="#f23645"/><rect x="6.54" y="55.00" width="1.9" height="9.80" fill="#f23645"/><rect x="9.08" y="68.60" width="0.9" height="5.30" fill="#089981"/><rect x="8.58" y="68.60" width="1.9" height="5.30" fill="#089981"/><rect x="11.12" y="73.00" width="0.9" height="29.50" fill="#f23645"/><rect x="10.62" y="74.00" width="1.9" height="27.50" fill="#f23645"/><rect x="13.16" y="84.00" width="0.9" height="18.00" fill="#089981"/><rect x="12.66" y="99.00" width="1.9" height="2.50" fill="#089981"/><rect x="15.21" y="96.80" width="0.9" height="4.10" fill="#089981"/><rect x="14.71" y="96.80" width="1.9" height="4.10" fill="#089981"/><rect x="17.25" y="99.70" width="0.9" height="6.40" fill="#f23645"/><rect x="16.75" y="99.70" width="1.9" height="5.90" fill="#f23645"/><rect x="19.29" y="96.00" width="0.9" height="8.40" fill="#089981"/><rect x="18.79" y="101.50" width="1.9" height="2.90" fill="#089981"/><rect x="21.34" y="100.00" width="0.9" height="5.00" fill="#089981"/><rect x="20.84" y="100.00" width="1.9" height="4.00" fill="#089981"/><rect x="23.38" y="99.00" width="0.9" height="7.50" fill="#089981"/><rect x="22.88" y="99.00" width="1.9" height="7.00" fill="#089981"/><rect x="25.42" y="97.50" width="0.9" height="10.30" fill="#089981"/><rect x="24.92" y="98.50" width="1.9" height="8.80" fill="#089981"/><rect x="27.46" y="97.50" width="0.9" height="10.30" fill="#f23645"/><rect x="26.96" y="98.00" width="1.9" height="8.80" fill="#f23645"/><rect x="29.51" y="108.00" width="0.9" height="3.00" fill="#089981"/><rect x="29.01" y="108.00" width="1.9" height="3.00" fill="#089981"/><rect x="31.55" y="108.50" width="0.9" height="4.10" fill="#f23645"/><rect x="31.05" y="108.50" width="1.9" height="4.10" fill="#f23645"/><rect x="33.59" y="112.10" width="0.9" height="8.90" fill="#f23645"/><rect x="33.09" y="112.60" width="1.9" height="5.90" fill="#f23645"/><rect x="35.64" y="113.00" width="0.9" height="6.00" fill="#089981"/><rect x="35.14" y="113.00" width="1.9" height="5.50" fill="#089981"/><rect x="37.68" y="112.00" width="0.9" height="12.00" fill="#f23645"/><rect x="37.18" y="113.00" width="1.9" height="11.00" fill="#f23645"/><rect x="39.72" y="106.80" width="0.9" height="17.20" fill="#089981"/><rect x="39.22" y="117.00" width="1.9" height="7.00" fill="#089981"/><rect x="41.77" y="116.00" width="0.9" height="3.00" fill="#089981"/><rect x="41.27" y="117.00" width="1.9" height="1.50" fill="#089981"/><rect x="43.81" y="114.50" width="0.9" height="6.50" fill="#089981"/><rect x="43.31" y="115.00" width="1.9" height="5.00" fill="#089981"/><rect x="45.85" y="104.40" width="0.9" height="11.20" fill="#089981"/><rect x="45.35" y="104.40" width="1.9" height="11.20" fill="#089981"/><rect x="47.89" y="105.80" width="0.9" height="17.20" fill="#f23645"/><rect x="47.39" y="106.80" width="1.9" height="16.20" fill="#f23645"/><rect x="49.94" y="116.90" width="0.9" height="11.60" fill="#089981"/><rect x="49.44" y="117.40" width="1.9" height="6.60" fill="#089981"/><rect x="51.98" y="101.60" width="0.9" height="15.80" fill="#089981"/><rect x="51.48" y="102.60" width="1.9" height="14.80" fill="#089981"/><rect x="54.02" y="101.00" width="0.9" height="4.50" fill="#089981"/><rect x="53.52" y="101.50" width="1.9" height="3.50" fill="#089981"/><rect x="56.07" y="99.30" width="0.9" height="5.10" fill="#f23645"/><rect x="55.57" y="100.30" width="1.9" height="4.10" fill="#f23645"/><rect x="58.11" y="85.00" width="0.9" height="20.00" fill="#089981"/><rect x="57.61" y="101.00" width="1.9" height="3.00" fill="#089981"/><rect x="60.15" y="103.80" width="0.9" height="5.70" fill="#f23645"/><rect x="59.65" y="103.80" width="1.9" height="4.70" fill="#f23645"/><rect x="62.19" y="108.50" width="0.9" height="25.30" fill="#f23645"/><rect x="61.69" y="108.50" width="1.9" height="21.20" fill="#f23645"/><rect x="64.24" y="108.00" width="0.9" height="21.70" fill="#089981"/><rect x="63.74" y="109.00" width="1.9" height="20.70" fill="#089981"/><rect x="66.28" y="105.20" width="0.9" height="13.30" fill="#f23645"/><rect x="65.78" y="106.20" width="1.9" height="12.30" fill="#f23645"/><rect x="68.32" y="116.00" width="0.9" height="3.00" fill="#089981"/><rect x="67.82" y="116.00" width="1.9" height="2.50" fill="#089981"/><rect x="70.37" y="108.50" width="0.9" height="10.00" fill="#089981"/><rect x="69.87" y="108.50" width="1.9" height="10.00" fill="#089981"/><rect x="72.41" y="100.40" width="0.9" height="11.60" fill="#089981"/><rect x="71.91" y="100.90" width="1.9" height="10.60" fill="#089981"/><rect x="74.45" y="99.20" width="0.9" height="23.90" fill="#f23645"/><rect x="73.95" y="99.70" width="1.9" height="22.90" fill="#f23645"/><rect x="76.49" y="119.00" width="0.9" height="14.20" fill="#f23645"/><rect x="75.99" y="122.60" width="1.9" height="10.60" fill="#f23645"/><rect x="78.54" y="115.50" width="0.9" height="18.20" fill="#089981"/><rect x="78.04" y="116.00" width="1.9" height="17.20" fill="#089981"/><rect x="80.58" y="111.50" width="0.9" height="5.00" fill="#089981"/><rect x="80.08" y="112.00" width="1.9" height="4.00" fill="#089981"/><rect x="82.62" y="107.00" width="0.9" height="8.60" fill="#f23645"/><rect x="82.12" y="112.00" width="1.9" height="3.60" fill="#f23645"/><rect x="84.67" y="107.00" width="0.9" height="8.00" fill="#089981"/><rect x="84.17" y="112.00" width="1.9" height="3.00" fill="#089981"/><rect x="86.71" y="112.60" width="0.9" height="4.20" fill="#089981"/><rect x="86.21" y="112.60" width="1.9" height="4.20" fill="#089981"/><rect x="88.75" y="113.20" width="0.9" height="23.40" fill="#f23645"/><rect x="88.25" y="113.20" width="1.9" height="22.40" fill="#f23645"/><rect x="90.79" y="134.60" width="0.9" height="9.00" fill="#f23645"/><rect x="90.29" y="135.60" width="1.9" height="7.00" fill="#f23645"/><rect x="92.84" y="141.50" width="0.9" height="5.50" fill="#f23645"/><rect x="92.34" y="142.00" width="1.9" height="4.00" fill="#f23645"/><rect x="94.88" y="145.00" width="0.9" height="5.00" fill="#f23645"/><rect x="94.38" y="146.00" width="1.9" height="4.00" fill="#f23645"/><rect x="96.92" y="148.00" width="0.9" height="8.20" fill="#f23645"/><rect x="96.42" y="149.00" width="1.9" height="7.20" fill="#f23645"/><rect x="98.97" y="150.00" width="0.9" height="12.50" fill="#089981"/><rect x="98.47" y="150.00" width="1.9" height="6.20" fill="#089981"/><rect x="101.01" y="100.50" width="0.9" height="51.10" fill="#089981"/><rect x="100.51" y="101.00" width="1.9" height="50.60" fill="#089981"/><rect x="103.05" y="101.50" width="0.9" height="9.30" fill="#f23645"/><rect x="102.55" y="101.50" width="1.9" height="8.80" fill="#f23645"/><rect x="105.09" y="105.50" width="0.9" height="8.50" fill="#f23645"/><rect x="104.59" y="106.00" width="1.9" height="7.00" fill="#f23645"/><rect x="107.14" y="107.50" width="0.9" height="5.50" fill="#089981"/><rect x="106.64" y="108.00" width="1.9" height="5.00" fill="#089981"/><rect x="109.18" y="108.00" width="0.9" height="11.00" fill="#f23645"/><rect x="108.68" y="108.00" width="1.9" height="10.00" fill="#f23645"/><rect x="111.22" y="118.00" width="0.9" height="11.70" fill="#f23645"/><rect x="110.72" y="118.00" width="1.9" height="11.70" fill="#f23645"/><rect x="113.27" y="125.00" width="0.9" height="4.70" fill="#089981"/><rect x="112.77" y="126.00" width="1.9" height="3.70" fill="#089981"/><rect x="115.31" y="127.40" width="0.9" height="8.00" fill="#f23645"/><rect x="114.81" y="127.40" width="1.9" height="7.00" fill="#f23645"/><rect x="117.35" y="124.80" width="0.9" height="13.20" fill="#089981"/><rect x="116.85" y="125.30" width="1.9" height="11.70" fill="#089981"/><rect x="119.40" y="118.20" width="0.9" height="8.10" fill="#089981"/><rect x="118.90" y="118.20" width="1.9" height="7.10" fill="#089981"/><rect x="121.44" y="106.50" width="0.9" height="10.00" fill="#089981"/><rect x="120.94" y="106.50" width="1.9" height="10.00" fill="#089981"/><rect x="123.48" y="100.70" width="0.9" height="5.80" fill="#089981"/><rect x="122.98" y="101.20" width="1.9" height="5.30" fill="#089981"/><rect x="125.52" y="98.20" width="0.9" height="5.90" fill="#f23645"/><rect x="125.02" y="100.60" width="1.9" height="3.50" fill="#f23645"/><rect x="127.57" y="98.00" width="0.9" height="6.70" fill="#f23645"/><rect x="127.07" y="99.40" width="1.9" height="5.30" fill="#f23645"/><rect x="129.61" y="99.00" width="0.9" height="14.00" fill="#089981"/><rect x="129.11" y="100.00" width="1.9" height="8.80" fill="#089981"/><rect x="131.65" y="99.60" width="0.9" height="14.40" fill="#f23645"/><rect x="131.15" y="100.60" width="1.9" height="12.40" fill="#f23645"/><rect x="133.70" y="103.50" width="0.9" height="8.30" fill="#089981"/><rect x="133.20" y="103.50" width="1.9" height="8.30" fill="#089981"/><rect x="135.74" y="105.30" width="0.9" height="7.50" fill="#f23645"/><rect x="135.24" y="105.30" width="1.9" height="6.50" fill="#f23645"/><rect x="137.78" y="110.80" width="0.9" height="5.10" fill="#f23645"/><rect x="137.28" y="111.80" width="1.9" height="4.10" fill="#f23645"/><rect x="139.82" y="108.20" width="0.9" height="5.80" fill="#089981"/><rect x="139.32" y="108.20" width="1.9" height="5.30" fill="#089981"/><rect x="141.87" y="107.70" width="0.9" height="17.50" fill="#f23645"/><rect x="141.37" y="108.20" width="1.9" height="16.50" fill="#f23645"/><rect x="143.91" y="123.50" width="0.9" height="2.30" fill="#f23645"/><rect x="143.41" y="124.00" width="1.9" height="1.30" fill="#f23645"/><rect x="145.95" y="127.50" width="0.9" height="6.00" fill="#f23645"/><rect x="145.45" y="128.00" width="1.9" height="2.60" fill="#f23645"/><rect x="148.00" y="117.70" width="0.9" height="12.30" fill="#089981"/><rect x="147.50" y="118.20" width="1.9" height="11.80" fill="#089981"/><rect x="150.04" y="105.30" width="0.9" height="13.90" fill="#089981"/><rect x="149.54" y="114.70" width="1.9" height="3.50" fill="#089981"/><rect x="152.08" y="108.80" width="0.9" height="6.50" fill="#089981"/><rect x="151.58" y="108.80" width="1.9" height="6.50" fill="#089981"/><rect x="154.12" y="110.00" width="0.9" height="5.30" fill="#f23645"/><rect x="153.62" y="110.00" width="1.9" height="5.30" fill="#f23645"/><rect x="156.17" y="114.00" width="0.9" height="9.50" fill="#f23645"/><rect x="155.67" y="114.00" width="1.9" height="9.00" fill="#f23645"/><rect x="158.21" y="120.60" width="0.9" height="14.10" fill="#f23645"/><rect x="157.71" y="120.60" width="1.9" height="10.60" fill="#f23645"/><rect x="160.25" y="129.50" width="0.9" height="2.30" fill="#f23645"/><rect x="159.75" y="130.00" width="1.9" height="1.80" fill="#f23645"/><rect x="162.30" y="129.60" width="0.9" height="2.70" fill="#089981"/><rect x="161.80" y="130.60" width="1.9" height="1.20" fill="#089981"/><rect x="164.34" y="130.00" width="0.9" height="3.50" fill="#f23645"/><rect x="163.84" y="130.00" width="1.9" height="3.50" fill="#f23645"/><rect x="166.38" y="117.00" width="0.9" height="16.50" fill="#089981"/><rect x="165.88" y="120.00" width="1.9" height="13.50" fill="#089981"/><rect x="168.42" y="119.00" width="0.9" height="5.70" fill="#f23645"/><rect x="167.92" y="120.00" width="1.9" height="4.70" fill="#f23645"/><rect x="170.47" y="124.70" width="0.9" height="1.20" fill="#f23645"/><rect x="169.97" y="124.70" width="1.9" height="1.20" fill="#f23645"/><rect x="172.51" y="121.20" width="0.9" height="6.80" fill="#089981"/><rect x="172.01" y="124.10" width="1.9" height="2.90" fill="#089981"/><rect x="174.55" y="124.10" width="0.9" height="16.30" fill="#f23645"/><rect x="174.05" y="124.10" width="1.9" height="15.30" fill="#f23645"/><rect x="176.60" y="138.90" width="0.9" height="54.60" fill="#f23645"/><rect x="176.10" y="139.40" width="1.9" height="54.10" fill="#f23645"/><rect x="178.64" y="191.30" width="0.9" height="3.40" fill="#f23645"/><rect x="178.14" y="191.80" width="1.9" height="2.90" fill="#f23645"/><rect x="180.68" y="194.00" width="0.9" height="42.00" fill="#f23645"/><rect x="180.18" y="194.00" width="1.9" height="10.70" fill="#f23645"/><rect x="182.73" y="199.40" width="0.9" height="12.40" fill="#089981"/><rect x="182.23" y="199.40" width="1.9" height="5.30" fill="#089981"/><rect x="184.77" y="174.00" width="0.9" height="25.40" fill="#089981"/><rect x="184.27" y="179.40" width="1.9" height="20.00" fill="#089981"/><rect x="186.81" y="179.40" width="0.9" height="7.10" fill="#f23645"/><rect x="186.31" y="185.30" width="1.9" height="1.20" fill="#f23645"/><rect x="188.85" y="186.50" width="0.9" height="14.10" fill="#f23645"/><rect x="188.35" y="186.50" width="1.9" height="11.10" fill="#f23645"/><rect x="190.90" y="188.90" width="0.9" height="7.60" fill="#089981"/><rect x="190.40" y="189.40" width="1.9" height="7.10" fill="#089981"/><rect x="192.94" y="182.00" width="0.9" height="10.30" fill="#089981"/><rect x="192.44" y="183.00" width="1.9" height="8.80" fill="#089981"/><rect x="194.98" y="183.00" width="0.9" height="17.60" fill="#f23645"/><rect x="194.48" y="183.00" width="1.9" height="12.90" fill="#f23645"/><rect x="197.03" y="171.20" width="0.9" height="24.60" fill="#089981"/><rect x="196.53" y="171.20" width="1.9" height="24.10" fill="#089981"/><rect x="199.07" y="167.00" width="0.9" height="29.50" fill="#f23645"/><rect x="198.57" y="171.20" width="1.9" height="25.30" fill="#f23645"/><rect x="201.11" y="190.60" width="0.9" height="15.90" fill="#f23645"/><rect x="200.61" y="190.60" width="1.9" height="9.40" fill="#f23645"/><rect x="203.15" y="178.90" width="0.9" height="21.60" fill="#089981"/><rect x="202.65" y="179.40" width="1.9" height="20.60" fill="#089981"/><rect x="205.20" y="174.00" width="0.9" height="6.60" fill="#089981"/><rect x="204.70" y="179.40" width="1.9" height="1.20" fill="#089981"/><rect x="207.24" y="178.80" width="0.9" height="18.80" fill="#f23645"/><rect x="206.74" y="178.80" width="1.9" height="12.40" fill="#f23645"/><rect x="209.28" y="182.40" width="0.9" height="9.30" fill="#089981"/><rect x="208.78" y="182.40" width="1.9" height="8.80" fill="#089981"/><rect x="211.33" y="180.60" width="0.9" height="6.40" fill="#089981"/><rect x="210.83" y="180.60" width="1.9" height="6.40" fill="#089981"/><rect x="213.37" y="176.50" width="0.9" height="8.50" fill="#089981"/><rect x="212.87" y="184.00" width="1.9" height="1.00" fill="#089981"/><rect x="215.41" y="180.10" width="0.9" height="7.90" fill="#f23645"/><rect x="214.91" y="180.60" width="1.9" height="6.40" fill="#f23645"/><rect x="217.45" y="180.10" width="0.9" height="3.90" fill="#089981"/><rect x="216.95" y="180.60" width="1.9" height="3.40" fill="#089981"/><rect x="219.50" y="166.50" width="0.9" height="14.10" fill="#089981"/><rect x="219.00" y="167.00" width="1.9" height="13.60" fill="#089981"/><rect x="221.54" y="168.20" width="0.9" height="37.10" fill="#f23645"/><rect x="221.04" y="168.20" width="1.9" height="37.10" fill="#f23645"/><rect x="223.58" y="203.00" width="0.9" height="23.30" fill="#f23645"/><rect x="223.08" y="204.00" width="1.9" height="21.30" fill="#f23645"/><rect x="225.63" y="221.80" width="0.9" height="7.40" fill="#f23645"/><rect x="225.13" y="221.80" width="1.9" height="6.40" fill="#f23645"/><rect x="227.67" y="228.80" width="0.9" height="13.00" fill="#f23645"/><rect x="227.17" y="228.80" width="1.9" height="6.50" fill="#f23645"/><rect x="229.71" y="227.60" width="0.9" height="8.70" fill="#089981"/><rect x="229.21" y="228.80" width="1.9" height="6.50" fill="#089981"/><rect x="231.75" y="227.60" width="0.9" height="20.00" fill="#f23645"/><rect x="231.25" y="227.60" width="1.9" height="20.00" fill="#f23645"/><rect x="233.80" y="247.60" width="0.9" height="4.00" fill="#f23645"/><rect x="233.30" y="247.60" width="1.9" height="3.00" fill="#f23645"/><rect x="235.84" y="249.50" width="0.9" height="6.20" fill="#f23645"/><rect x="235.34" y="250.00" width="1.9" height="4.70" fill="#f23645"/><rect x="237.88" y="244.20" width="0.9" height="10.40" fill="#089981"/><rect x="237.38" y="244.70" width="1.9" height="9.40" fill="#089981"/><rect x="239.93" y="244.90" width="0.9" height="6.90" fill="#f23645"/><rect x="239.43" y="245.90" width="1.9" height="5.90" fill="#f23645"/><rect x="241.97" y="237.10" width="0.9" height="9.90" fill="#089981"/><rect x="241.47" y="237.60" width="1.9" height="8.90" fill="#089981"/><rect x="244.01" y="232.00" width="0.9" height="12.50" fill="#089981"/><rect x="243.51" y="233.00" width="1.9" height="10.50" fill="#089981"/><rect x="246.06" y="234.00" width="0.9" height="6.50" fill="#f23645"/><rect x="245.56" y="234.00" width="1.9" height="6.00" fill="#f23645"/><rect x="248.10" y="240.00" width="0.9" height="14.00" fill="#f23645"/><rect x="247.60" y="240.00" width="1.9" height="8.80" fill="#f23645"/><rect x="250.14" y="239.00" width="0.9" height="47.00" fill="#089981"/><rect x="249.64" y="240.00" width="1.9" height="17.60" fill="#089981"/><rect x="252.18" y="242.00" width="0.9" height="17.00" fill="#089981"/><rect x="251.68" y="243.00" width="1.9" height="3.00" fill="#089981"/><rect x="254.23" y="234.00" width="0.9" height="9.00" fill="#089981"/><rect x="253.73" y="234.00" width="1.9" height="9.00" fill="#089981"/><rect x="256.27" y="234.30" width="0.9" height="7.50" fill="#f23645"/><rect x="255.77" y="235.30" width="1.9" height="6.50" fill="#f23645"/><rect x="258.31" y="239.00" width="0.9" height="2.80" fill="#089981"/><rect x="257.81" y="240.00" width="1.9" height="1.80" fill="#089981"/><rect x="260.36" y="218.20" width="0.9" height="23.40" fill="#089981"/><rect x="259.86" y="218.20" width="1.9" height="22.40" fill="#089981"/><rect x="262.40" y="217.70" width="0.9" height="5.10" fill="#f23645"/><rect x="261.90" y="218.20" width="1.9" height="3.60" fill="#f23645"/><rect x="264.44" y="221.20" width="0.9" height="4.10" fill="#f23645"/><rect x="263.94" y="221.20" width="1.9" height="4.10" fill="#f23645"/><rect x="266.48" y="221.20" width="0.9" height="4.10" fill="#089981"/><rect x="265.98" y="221.20" width="1.9" height="4.10" fill="#089981"/><rect x="268.53" y="208.20" width="0.9" height="14.00" fill="#089981"/><rect x="268.03" y="208.20" width="1.9" height="13.00" fill="#089981"/><rect x="270.57" y="206.50" width="0.9" height="2.20" fill="#f23645"/><rect x="270.07" y="206.50" width="1.9" height="1.70" fill="#f23645"/><rect x="272.61" y="209.40" width="0.9" height="4.60" fill="#089981"/><rect x="272.11" y="209.40" width="1.9" height="4.60" fill="#089981"/><rect x="274.66" y="209.50" width="0.9" height="25.70" fill="#f23645"/><rect x="274.16" y="210.00" width="1.9" height="24.70" fill="#f23645"/><rect x="276.70" y="221.20" width="0.9" height="15.30" fill="#089981"/><rect x="276.20" y="221.20" width="1.9" height="15.30" fill="#089981"/><rect x="278.74" y="221.20" width="0.9" height="1.20" fill="#f23645"/><rect x="278.24" y="221.20" width="1.9" height="1.20" fill="#f23645"/><rect x="280.78" y="221.00" width="0.9" height="3.00" fill="#f23645"/><rect x="280.28" y="222.00" width="1.9" height="1.00" fill="#f23645"/><rect x="282.83" y="222.40" width="0.9" height="9.90" fill="#f23645"/><rect x="282.33" y="222.40" width="1.9" height="9.40" fill="#f23645"/><rect x="284.87" y="231.20" width="0.9" height="18.20" fill="#089981"/><rect x="284.37" y="231.20" width="1.9" height="14.70" fill="#089981"/><rect x="286.91" y="215.30" width="0.9" height="12.20" fill="#089981"/><rect x="286.41" y="215.30" width="1.9" height="11.20" fill="#089981"/><rect x="288.96" y="215.40" width="0.9" height="11.10" fill="#f23645"/><rect x="288.46" y="215.90" width="1.9" height="10.60" fill="#f23645"/><rect x="291.00" y="226.00" width="0.9" height="10.50" fill="#f23645"/><rect x="290.50" y="227.00" width="1.9" height="4.20" fill="#f23645"/><rect x="293.04" y="233.50" width="0.9" height="8.50" fill="#089981"/><rect x="292.54" y="233.25" width="1.9" height="1.00" fill="#089981"/><rect x="295.08" y="211.80" width="0.9" height="16.40" fill="#089981"/><rect x="294.58" y="218.80" width="1.9" height="9.40" fill="#089981"/><rect x="297.13" y="218.20" width="0.9" height="2.20" fill="#089981"/><rect x="296.63" y="218.20" width="1.9" height="1.20" fill="#089981"/><rect x="299.17" y="216.50" width="0.9" height="2.70" fill="#089981"/><rect x="298.67" y="216.50" width="1.9" height="1.70" fill="#089981"/><rect x="301.21" y="209.40" width="0.9" height="7.10" fill="#089981"/><rect x="300.71" y="211.80" width="1.9" height="4.70" fill="#089981"/><rect x="303.26" y="211.80" width="0.9" height="1.20" fill="#f23645"/><rect x="302.76" y="211.80" width="1.9" height="1.20" fill="#f23645"/><rect x="305.30" y="212.00" width="0.9" height="23.30" fill="#f23645"/><rect x="304.80" y="213.00" width="1.9" height="22.30" fill="#f23645"/><rect x="307.34" y="232.00" width="0.9" height="6.70" fill="#f23645"/><rect x="306.84" y="233.00" width="1.9" height="5.20" fill="#f23645"/><rect x="309.38" y="238.80" width="0.9" height="17.70" fill="#f23645"/><rect x="308.88" y="238.80" width="1.9" height="17.70" fill="#f23645"/><rect x="311.43" y="258.60" width="0.9" height="121.40" fill="#f23645"/><rect x="310.93" y="258.60" width="1.9" height="76.70" fill="#f23645"/><rect x="313.47" y="335.30" width="0.9" height="36.70" fill="#f23645"/><rect x="312.97" y="335.30" width="1.9" height="12.30" fill="#f23645"/><rect x="315.51" y="321.20" width="0.9" height="32.30" fill="#089981"/><rect x="315.01" y="321.20" width="1.9" height="25.80" fill="#089981"/><rect x="317.56" y="310.60" width="0.9" height="10.00" fill="#089981"/><rect x="317.06" y="318.20" width="1.9" height="2.40" fill="#089981"/><rect x="319.60" y="318.90" width="0.9" height="28.10" fill="#f23645"/><rect x="319.10" y="319.40" width="1.9" height="10.00" fill="#f23645"/><rect x="321.64" y="323.50" width="0.9" height="21.80" fill="#089981"/><rect x="321.14" y="334.70" width="1.9" height="10.60" fill="#089981"/><rect x="323.69" y="310.20" width="0.9" height="33.20" fill="#089981"/><rect x="323.19" y="311.20" width="1.9" height="31.20" fill="#089981"/><rect x="325.73" y="307.70" width="0.9" height="29.90" fill="#f23645"/><rect x="325.23" y="308.20" width="1.9" height="17.10" fill="#f23645"/><rect x="327.77" y="323.10" width="0.9" height="5.00" fill="#089981"/><rect x="327.27" y="324.10" width="1.9" height="3.50" fill="#089981"/><rect x="329.81" y="323.50" width="0.9" height="18.70" fill="#f23645"/><rect x="329.31" y="323.50" width="1.9" height="17.70" fill="#f23645"/><rect x="331.86" y="340.80" width="0.9" height="16.80" fill="#f23645"/><rect x="331.36" y="341.80" width="1.9" height="6.40" fill="#f23645"/><rect x="333.90" y="337.00" width="0.9" height="14.10" fill="#089981"/><rect x="333.40" y="343.50" width="1.9" height="7.10" fill="#089981"/><rect x="335.94" y="335.30" width="0.9" height="20.40" fill="#f23645"/><rect x="335.44" y="343.00" width="1.9" height="11.70" fill="#f23645"/><rect x="337.99" y="353.70" width="0.9" height="3.90" fill="#f23645"/><rect x="337.49" y="354.70" width="1.9" height="2.90" fill="#f23645"/><rect x="340.03" y="356.80" width="0.9" height="11.20" fill="#f23645"/><rect x="339.53" y="356.80" width="1.9" height="11.20" fill="#f23645"/><rect x="342.07" y="367.00" width="0.9" height="51.90" fill="#f23645"/><rect x="341.57" y="368.00" width="1.9" height="49.90" fill="#f23645"/><rect x="344.11" y="418.00" width="0.9" height="9.70" fill="#f23645"/><rect x="343.61" y="420.30" width="1.9" height="2.50" fill="#f23645"/><rect x="346.16" y="406.20" width="0.9" height="16.60" fill="#089981"/><rect x="345.66" y="421.60" width="1.9" height="1.20" fill="#089981"/><rect x="348.20" y="412.30" width="0.9" height="21.40" fill="#f23645"/><rect x="347.70" y="422.20" width="1.9" height="10.50" fill="#f23645"/><rect x="350.24" y="430.40" width="0.9" height="26.30" fill="#089981"/><rect x="349.74" y="431.40" width="1.9" height="1.30" fill="#089981"/><rect x="352.29" y="432.00" width="0.9" height="22.60" fill="#f23645"/><rect x="351.79" y="432.00" width="1.9" height="21.60" fill="#f23645"/><rect x="354.33" y="444.60" width="0.9" height="17.10" fill="#089981"/><rect x="353.83" y="445.60" width="1.9" height="16.10" fill="#089981"/><rect x="356.37" y="441.30" width="0.9" height="10.50" fill="#089981"/><rect x="355.87" y="441.30" width="1.9" height="5.60" fill="#089981"/><rect x="358.41" y="444.40" width="0.9" height="8.60" fill="#089981"/><rect x="357.91" y="444.40" width="1.9" height="2.50" fill="#089981"/><rect x="360.46" y="448.20" width="0.9" height="16.80" fill="#089981"/><rect x="359.96" y="448.50" width="1.9" height="1.00" fill="#089981"/><rect x="362.50" y="430.40" width="0.9" height="26.30" fill="#089981"/><rect x="362.00" y="431.40" width="1.9" height="17.30" fill="#089981"/><rect x="364.54" y="419.20" width="0.9" height="11.60" fill="#089981"/><rect x="364.04" y="419.70" width="1.9" height="11.10" fill="#089981"/><rect x="366.59" y="413.60" width="0.9" height="11.40" fill="#f23645"/><rect x="366.09" y="420.30" width="1.9" height="3.70" fill="#f23645"/><rect x="368.63" y="423.40" width="0.9" height="1.30" fill="#f23645"/><rect x="368.13" y="423.40" width="1.9" height="1.30" fill="#f23645"/><rect x="370.67" y="421.60" width="0.9" height="12.30" fill="#f23645"/><rect x="370.17" y="421.60" width="1.9" height="12.30" fill="#f23645"/><rect x="372.71" y="433.50" width="0.9" height="15.20" fill="#f23645"/><rect x="372.21" y="434.00" width="1.9" height="14.70" fill="#f23645"/><rect x="374.76" y="405.50" width="0.9" height="48.50" fill="#089981"/><rect x="374.26" y="405.50" width="1.9" height="47.50" fill="#089981"/><rect x="376.80" y="391.50" width="0.9" height="20.80" fill="#089981"/><rect x="376.30" y="401.20" width="1.9" height="11.10" fill="#089981"/><rect x="378.84" y="401.80" width="0.9" height="15.50" fill="#f23645"/><rect x="378.34" y="401.80" width="1.9" height="1.90" fill="#f23645"/><rect x="380.89" y="365.60" width="0.9" height="37.60" fill="#089981"/><rect x="380.39" y="376.20" width="1.9" height="27.00" fill="#089981"/><rect x="382.93" y="378.50" width="0.9" height="9.50" fill="#f23645"/><rect x="382.43" y="378.50" width="1.9" height="9.50" fill="#f23645"/><rect x="384.97" y="388.50" width="0.9" height="9.50" fill="#f23645"/><rect x="384.47" y="388.50" width="1.9" height="3.80" fill="#f23645"/><rect x="387.02" y="389.30" width="0.9" height="5.00" fill="#f23645"/><rect x="386.52" y="390.30" width="1.9" height="3.50" fill="#f23645"/><rect x="389.06" y="391.50" width="0.9" height="10.00" fill="#089981"/><rect x="388.56" y="391.50" width="1.9" height="3.00" fill="#089981"/><rect x="391.10" y="384.00" width="0.9" height="10.00" fill="#089981"/><rect x="390.60" y="384.00" width="1.9" height="10.00" fill="#089981"/><rect x="393.14" y="361.50" width="0.9" height="34.00" fill="#089981"/><rect x="392.64" y="362.00" width="1.9" height="33.00" fill="#089981"/><rect x="395.19" y="361.50" width="0.9" height="3.40" fill="#f23645"/><rect x="394.69" y="361.50" width="1.9" height="2.90" fill="#f23645"/><rect x="397.23" y="345.00" width="0.9" height="19.90" fill="#089981"/><rect x="396.73" y="348.00" width="1.9" height="16.40" fill="#089981"/><rect x="399.27" y="335.30" width="0.9" height="41.90" fill="#f23645"/><rect x="398.77" y="350.00" width="1.9" height="26.20" fill="#f23645"/><rect x="401.32" y="347.00" width="0.9" height="28.50" fill="#089981"/><rect x="400.82" y="347.00" width="1.9" height="28.00" fill="#089981"/><rect x="403.36" y="345.50" width="0.9" height="6.30" fill="#f23645"/><rect x="402.86" y="346.50" width="1.9" height="5.30" fill="#f23645"/><rect x="405.40" y="350.70" width="0.9" height="18.30" fill="#f23645"/><rect x="404.90" y="351.20" width="1.9" height="17.80" fill="#f23645"/><rect x="407.44" y="358.50" width="0.9" height="11.00" fill="#089981"/><rect x="406.94" y="359.00" width="1.9" height="10.00" fill="#089981"/><rect x="409.49" y="359.00" width="0.9" height="39.50" fill="#f23645"/><rect x="408.99" y="359.00" width="1.9" height="28.40" fill="#f23645"/><rect x="411.53" y="373.20" width="0.9" height="13.60" fill="#089981"/><rect x="411.03" y="373.20" width="1.9" height="13.60" fill="#089981"/><rect x="413.57" y="365.00" width="0.9" height="8.00" fill="#089981"/><rect x="413.07" y="366.00" width="1.9" height="7.00" fill="#089981"/><rect x="415.62" y="350.10" width="0.9" height="19.40" fill="#089981"/><rect x="415.12" y="350.60" width="1.9" height="18.40" fill="#089981"/><rect x="417.66" y="348.80" width="0.9" height="16.60" fill="#f23645"/><rect x="417.16" y="350.60" width="1.9" height="13.80" fill="#f23645"/><rect x="419.70" y="364.40" width="0.9" height="6.40" fill="#f23645"/><rect x="419.20" y="364.40" width="1.9" height="5.90" fill="#f23645"/><rect x="421.74" y="370.30" width="0.9" height="15.90" fill="#f23645"/><rect x="421.24" y="370.30" width="1.9" height="15.90" fill="#f23645"/><rect x="423.79" y="378.00" width="0.9" height="12.70" fill="#089981"/><rect x="423.29" y="378.50" width="1.9" height="11.20" fill="#089981"/><rect x="425.83" y="378.50" width="0.9" height="2.00" fill="#f23645"/><rect x="425.33" y="378.50" width="1.9" height="1.50" fill="#f23645"/><rect x="427.87" y="380.00" width="0.9" height="10.30" fill="#f23645"/><rect x="427.37" y="381.00" width="1.9" height="2.00" fill="#f23645"/><rect x="429.92" y="379.80" width="0.9" height="7.20" fill="#f23645"/><rect x="429.42" y="380.30" width="1.9" height="6.20" fill="#f23645"/><rect x="431.96" y="384.60" width="0.9" height="6.20" fill="#f23645"/><rect x="431.46" y="385.60" width="1.9" height="4.70" fill="#f23645"/><rect x="434.00" y="390.30" width="0.9" height="15.80" fill="#f23645"/><rect x="433.50" y="390.30" width="1.9" height="15.30" fill="#f23645"/><rect x="436.04" y="405.10" width="0.9" height="3.40" fill="#f23645"/><rect x="435.54" y="405.60" width="1.9" height="2.90" fill="#f23645"/><rect x="438.09" y="407.00" width="0.9" height="2.70" fill="#f23645"/><rect x="437.59" y="408.00" width="1.9" height="1.70" fill="#f23645"/><rect x="440.13" y="406.80" width="0.9" height="2.90" fill="#089981"/><rect x="439.63" y="406.80" width="1.9" height="2.90" fill="#089981"/><rect x="442.17" y="394.50" width="0.9" height="13.40" fill="#089981"/><rect x="441.67" y="395.00" width="1.9" height="12.40" fill="#089981"/><rect x="444.22" y="376.30" width="0.9" height="19.20" fill="#089981"/><rect x="443.72" y="376.80" width="1.9" height="18.20" fill="#089981"/><rect x="446.26" y="375.00" width="0.9" height="7.00" fill="#089981"/><rect x="445.76" y="375.00" width="1.9" height="2.00" fill="#089981"/><rect x="448.30" y="373.80" width="0.9" height="3.00" fill="#f23645"/><rect x="447.80" y="373.80" width="1.9" height="3.00" fill="#f23645"/><rect x="450.35" y="375.90" width="0.9" height="1.10" fill="#089981"/><rect x="449.85" y="375.70" width="1.9" height="1.00" fill="#089981"/><rect x="452.39" y="368.40" width="0.9" height="9.10" fill="#089981"/><rect x="451.89" y="369.40" width="1.9" height="7.10" fill="#089981"/><rect x="454.43" y="368.90" width="0.9" height="3.50" fill="#f23645"/><rect x="453.93" y="369.40" width="1.9" height="3.00" fill="#f23645"/><rect x="456.47" y="368.20" width="0.9" height="5.20" fill="#089981"/><rect x="455.97" y="368.20" width="1.9" height="4.20" fill="#089981"/><rect x="458.52" y="368.20" width="0.9" height="7.70" fill="#f23645"/><rect x="458.02" y="368.20" width="1.9" height="4.20" fill="#f23645"/><rect x="460.56" y="366.50" width="0.9" height="5.30" fill="#089981"/><rect x="460.06" y="366.50" width="1.9" height="5.30" fill="#089981"/><rect x="462.60" y="358.00" width="0.9" height="8.00" fill="#089981"/><rect x="462.10" y="358.00" width="1.9" height="8.00" fill="#089981"/><rect x="464.65" y="357.50" width="0.9" height="13.60" fill="#f23645"/><rect x="464.15" y="358.00" width="1.9" height="12.60" fill="#f23645"/><rect x="466.69" y="371.20" width="0.9" height="22.30" fill="#f23645"/><rect x="466.19" y="371.20" width="1.9" height="21.80" fill="#f23645"/><rect x="468.73" y="385.30" width="0.9" height="8.70" fill="#089981"/><rect x="468.23" y="385.30" width="1.9" height="7.70" fill="#089981"/><rect x="470.77" y="381.90" width="0.9" height="3.40" fill="#089981"/><rect x="470.27" y="382.40" width="1.9" height="2.90" fill="#089981"/><rect x="472.82" y="384.10" width="0.9" height="11.70" fill="#f23645"/><rect x="472.32" y="384.10" width="1.9" height="11.20" fill="#f23645"/><rect x="474.86" y="388.40" width="0.9" height="8.10" fill="#089981"/><rect x="474.36" y="389.40" width="1.9" height="7.10" fill="#089981"/><rect x="476.90" y="390.60" width="0.9" height="4.70" fill="#089981"/><rect x="476.40" y="390.60" width="1.9" height="4.70" fill="#089981"/><rect x="478.95" y="391.20" width="0.9" height="8.20" fill="#f23645"/><rect x="478.45" y="391.20" width="1.9" height="8.20" fill="#f23645"/><rect x="480.99" y="387.60" width="0.9" height="12.80" fill="#089981"/><rect x="480.49" y="390.60" width="1.9" height="8.80" fill="#089981"/><rect x="483.03" y="390.60" width="0.9" height="3.50" fill="#f23645"/><rect x="482.53" y="390.60" width="1.9" height="3.50" fill="#f23645"/><rect x="485.07" y="393.00" width="0.9" height="2.20" fill="#089981"/><rect x="484.57" y="393.00" width="1.9" height="1.70" fill="#089981"/><rect x="487.12" y="389.00" width="0.9" height="5.00" fill="#089981"/><rect x="486.62" y="390.00" width="1.9" height="3.50" fill="#089981"/><rect x="489.16" y="381.20" width="0.9" height="8.80" fill="#089981"/><rect x="488.66" y="381.20" width="1.9" height="8.80" fill="#089981"/><rect x="491.20" y="381.30" width="0.9" height="5.60" fill="#f23645"/><rect x="490.70" y="381.80" width="1.9" height="4.10" fill="#f23645"/><rect x="493.25" y="377.20" width="0.9" height="8.70" fill="#089981"/><rect x="492.75" y="378.20" width="1.9" height="7.70" fill="#089981"/><rect x="495.29" y="377.60" width="0.9" height="4.20" fill="#f23645"/><rect x="494.79" y="377.60" width="1.9" height="4.20" fill="#f23645"/><rect x="497.33" y="383.50" width="0.9" height="9.50" fill="#f23645"/><rect x="496.83" y="383.50" width="1.9" height="9.50" fill="#f23645"/><rect x="499.37" y="380.60" width="0.9" height="12.40" fill="#089981"/><rect x="498.87" y="390.60" width="1.9" height="2.40" fill="#089981"/><rect x="501.42" y="382.00" width="0.9" height="9.20" fill="#089981"/><rect x="500.92" y="383.00" width="1.9" height="8.20" fill="#089981"/><rect x="503.46" y="376.50" width="0.9" height="8.80" fill="#089981"/><rect x="502.96" y="376.50" width="1.9" height="8.80" fill="#089981"/><rect x="505.50" y="377.60" width="0.9" height="7.10" fill="#f23645"/><rect x="505.00" y="377.60" width="1.9" height="7.10" fill="#f23645"/><rect x="507.55" y="384.10" width="0.9" height="0.60" fill="#089981"/><rect x="507.05" y="383.90" width="1.9" height="1.00" fill="#089981"/><rect x="509.59" y="384.10" width="0.9" height="4.50" fill="#f23645"/><rect x="509.09" y="384.10" width="1.9" height="3.50" fill="#f23645"/><rect x="511.63" y="382.40" width="0.9" height="6.20" fill="#089981"/><rect x="511.13" y="382.40" width="1.9" height="5.20" fill="#089981"/><rect x="513.67" y="383.00" width="0.9" height="8.70" fill="#f23645"/><rect x="513.17" y="383.00" width="1.9" height="8.20" fill="#f23645"/><rect x="515.72" y="389.40" width="0.9" height="2.30" fill="#f23645"/><rect x="515.22" y="389.40" width="1.9" height="1.80" fill="#f23645"/><rect x="517.76" y="391.20" width="0.9" height="14.50" fill="#f23645"/><rect x="517.26" y="391.20" width="1.9" height="13.50" fill="#f23645"/><rect x="519.80" y="402.40" width="0.9" height="3.90" fill="#089981"/><rect x="519.30" y="402.40" width="1.9" height="2.90" fill="#089981"/><rect x="521.85" y="399.00" width="0.9" height="4.40" fill="#f23645"/><rect x="521.35" y="400.00" width="1.9" height="2.40" fill="#f23645"/><rect x="523.89" y="395.30" width="0.9" height="6.90" fill="#089981"/><rect x="523.39" y="395.30" width="1.9" height="5.90" fill="#089981"/><rect x="525.93" y="393.50" width="0.9" height="1.80" fill="#089981"/><rect x="525.43" y="393.50" width="1.9" height="1.80" fill="#089981"/><rect x="527.98" y="384.70" width="0.9" height="9.30" fill="#089981"/><rect x="527.48" y="384.70" width="1.9" height="8.80" fill="#089981"/><rect x="530.02" y="384.70" width="0.9" height="8.30" fill="#f23645"/><rect x="529.52" y="384.70" width="1.9" height="8.30" fill="#f23645"/><rect x="532.06" y="387.60" width="0.9" height="9.40" fill="#089981"/><rect x="531.56" y="396.00" width="1.9" height="1.00" fill="#089981"/><rect x="534.10" y="396.00" width="0.9" height="3.90" fill="#f23645"/><rect x="533.60" y="396.50" width="1.9" height="2.90" fill="#f23645"/><rect x="536.15" y="399.40" width="0.9" height="2.90" fill="#f23645"/><rect x="535.65" y="399.40" width="1.9" height="2.40" fill="#f23645"/><rect x="538.19" y="400.80" width="0.9" height="19.70" fill="#f23645"/><rect x="537.69" y="401.80" width="1.9" height="18.20" fill="#f23645"/><rect x="540.23" y="406.50" width="0.9" height="14.70" fill="#089981"/><rect x="539.73" y="407.00" width="1.9" height="14.20" fill="#089981"/><rect x="542.28" y="401.80" width="0.9" height="5.20" fill="#089981"/><rect x="541.78" y="401.80" width="1.9" height="5.20" fill="#089981"/><rect x="544.32" y="401.80" width="0.9" height="2.20" fill="#f23645"/><rect x="543.82" y="401.80" width="1.9" height="1.70" fill="#f23645"/><rect x="546.36" y="401.80" width="0.9" height="1.70" fill="#089981"/><rect x="545.86" y="401.80" width="1.9" height="1.70" fill="#089981"/><rect x="548.40" y="395.30" width="0.9" height="8.70" fill="#089981"/><rect x="547.90" y="395.30" width="1.9" height="8.20" fill="#089981"/><rect x="550.45" y="393.50" width="0.9" height="2.80" fill="#089981"/><rect x="549.95" y="393.50" width="1.9" height="1.80" fill="#089981"/><rect x="552.49" y="382.50" width="0.9" height="11.00" fill="#089981"/><rect x="551.99" y="383.00" width="1.9" height="10.50" fill="#089981"/><rect x="554.53" y="360.80" width="0.9" height="23.20" fill="#089981"/><rect x="554.03" y="361.80" width="1.9" height="21.20" fill="#089981"/><rect x="556.58" y="349.00" width="0.9" height="12.80" fill="#089981"/><rect x="556.08" y="350.00" width="1.9" height="11.80" fill="#089981"/><rect x="558.62" y="341.20" width="0.9" height="8.80" fill="#089981"/><rect x="558.12" y="347.00" width="1.9" height="3.00" fill="#089981"/><rect x="560.66" y="345.50" width="0.9" height="2.70" fill="#089981"/><rect x="560.16" y="346.50" width="1.9" height="1.70" fill="#089981"/><rect x="562.70" y="336.50" width="0.9" height="10.50" fill="#089981"/><rect x="562.20" y="337.60" width="1.9" height="8.90" fill="#089981"/><rect x="564.75" y="338.20" width="0.9" height="18.20" fill="#f23645"/><rect x="564.25" y="338.20" width="1.9" height="17.20" fill="#f23645"/><rect x="566.79" y="354.50" width="0.9" height="0.90" fill="#f23645"/><rect x="566.29" y="354.45" width="1.9" height="1.00" fill="#f23645"/><rect x="568.83" y="339.00" width="0.9" height="16.40" fill="#089981"/><rect x="568.33" y="339.00" width="1.9" height="16.40" fill="#089981"/><rect x="570.88" y="337.60" width="0.9" height="1.90" fill="#089981"/><rect x="570.38" y="337.60" width="1.9" height="1.90" fill="#089981"/><rect x="572.92" y="337.60" width="0.9" height="5.40" fill="#f23645"/><rect x="572.42" y="337.60" width="1.9" height="5.40" fill="#f23645"/><rect x="574.96" y="343.00" width="0.9" height="11.40" fill="#f23645"/><rect x="574.46" y="343.50" width="1.9" height="10.90" fill="#f23645"/><rect x="577.00" y="353.50" width="0.9" height="1.90" fill="#f23645"/><rect x="576.50" y="353.50" width="1.9" height="1.90" fill="#f23645"/><rect x="579.05" y="354.00" width="0.9" height="1.00" fill="#089981"/><rect x="578.55" y="354.00" width="1.9" height="1.00" fill="#089981"/><rect x="581.09" y="354.00" width="0.9" height="1.50" fill="#f23645"/><rect x="580.59" y="354.00" width="1.9" height="1.50" fill="#f23645"/><rect x="583.13" y="354.50" width="0.9" height="0.90" fill="#089981"/><rect x="582.63" y="354.45" width="1.9" height="1.00" fill="#089981"/><rect x="585.18" y="354.50" width="0.9" height="1.90" fill="#f23645"/><rect x="584.68" y="355.00" width="1.9" height="1.40" fill="#f23645"/><rect x="587.22" y="355.00" width="0.9" height="2.00" fill="#089981"/><rect x="586.72" y="355.00" width="1.9" height="1.00" fill="#089981"/><rect x="589.26" y="355.00" width="0.9" height="1.00" fill="#f23645"/><rect x="588.76" y="355.00" width="1.9" height="1.00" fill="#f23645"/><rect x="591.31" y="348.60" width="0.9" height="5.80" fill="#089981"/><rect x="590.81" y="348.60" width="1.9" height="5.80" fill="#089981"/><rect x="593.35" y="342.00" width="0.9" height="7.50" fill="#089981"/><rect x="592.85" y="342.00" width="1.9" height="7.50" fill="#089981"/><rect x="595.39" y="335.30" width="0.9" height="7.10" fill="#089981"/><rect x="594.89" y="335.30" width="1.9" height="7.10" fill="#089981"/><rect x="597.43" y="331.90" width="0.9" height="4.40" fill="#089981"/><rect x="596.93" y="332.40" width="1.9" height="2.90" fill="#089981"/><rect x="599.48" y="331.80" width="0.9" height="0.60" fill="#089981"/><rect x="598.98" y="331.60" width="1.9" height="1.00" fill="#089981"/><rect x="601.52" y="327.00" width="0.9" height="4.80" fill="#089981"/><rect x="601.02" y="327.00" width="1.9" height="4.80" fill="#089981"/><rect x="603.56" y="324.20" width="0.9" height="3.90" fill="#089981"/><rect x="603.06" y="324.70" width="1.9" height="2.90" fill="#089981"/><rect x="605.61" y="324.20" width="0.9" height="3.30" fill="#f23645"/><rect x="605.11" y="324.70" width="1.9" height="1.80" fill="#f23645"/><rect x="607.65" y="324.20" width="0.9" height="2.30" fill="#089981"/><rect x="607.15" y="324.70" width="1.9" height="1.80" fill="#089981"/><rect x="609.69" y="313.00" width="0.9" height="12.20" fill="#089981"/><rect x="609.19" y="313.50" width="1.9" height="11.20" fill="#089981"/><rect x="611.73" y="310.70" width="0.9" height="2.80" fill="#089981"/><rect x="611.23" y="311.20" width="1.9" height="2.30" fill="#089981"/><rect x="613.78" y="311.30" width="0.9" height="4.50" fill="#f23645"/><rect x="613.28" y="311.80" width="1.9" height="3.50" fill="#f23645"/><rect x="615.82" y="313.10" width="0.9" height="8.70" fill="#f23645"/><rect x="615.32" y="314.10" width="1.9" height="4.10" fill="#f23645"/><rect x="617.86" y="313.00" width="0.9" height="5.20" fill="#089981"/><rect x="617.36" y="313.50" width="1.9" height="4.70" fill="#089981"/><rect x="619.91" y="304.30" width="0.9" height="7.50" fill="#089981"/><rect x="619.41" y="305.30" width="1.9" height="6.50" fill="#089981"/><rect x="621.95" y="301.40" width="0.9" height="9.60" fill="#089981"/><rect x="621.45" y="302.40" width="1.9" height="2.90" fill="#089981"/><rect x="623.99" y="297.60" width="0.9" height="5.30" fill="#089981"/><rect x="623.49" y="297.60" width="1.9" height="4.80" fill="#089981"/><rect x="626.03" y="296.60" width="0.9" height="8.70" fill="#f23645"/><rect x="625.53" y="297.60" width="1.9" height="7.70" fill="#f23645"/><rect x="628.08" y="306.50" width="0.9" height="8.20" fill="#f23645"/><rect x="627.58" y="306.50" width="1.9" height="8.20" fill="#f23645"/><rect x="630.12" y="315.40" width="0.9" height="5.80" fill="#f23645"/><rect x="629.62" y="315.90" width="1.9" height="5.30" fill="#f23645"/><rect x="632.16" y="316.60" width="0.9" height="8.70" fill="#f23645"/><rect x="631.66" y="317.60" width="1.9" height="7.70" fill="#f23645"/><rect x="634.21" y="318.80" width="0.9" height="7.00" fill="#089981"/><rect x="633.71" y="318.80" width="1.9" height="6.50" fill="#089981"/><rect x="636.25" y="315.90" width="0.9" height="4.10" fill="#089981"/><rect x="635.75" y="315.90" width="1.9" height="4.10" fill="#089981"/><rect x="638.29" y="312.40" width="0.9" height="15.10" fill="#f23645"/><rect x="637.79" y="312.90" width="1.9" height="13.60" fill="#f23645"/><rect x="640.33" y="325.30" width="0.9" height="2.20" fill="#f23645"/><rect x="639.83" y="325.30" width="1.9" height="1.20" fill="#f23645"/><rect x="642.38" y="325.30" width="0.9" height="2.20" fill="#089981"/><rect x="641.88" y="325.30" width="1.9" height="1.20" fill="#089981"/><rect x="644.42" y="317.70" width="0.9" height="8.10" fill="#089981"/><rect x="643.92" y="318.20" width="1.9" height="7.10" fill="#089981"/><rect x="646.46" y="308.20" width="0.9" height="10.50" fill="#089981"/><rect x="645.96" y="308.20" width="1.9" height="10.00" fill="#089981"/><rect x="648.51" y="308.20" width="0.9" height="6.50" fill="#f23645"/><rect x="648.01" y="308.20" width="1.9" height="6.50" fill="#f23645"/><rect x="650.55" y="313.10" width="0.9" height="2.20" fill="#089981"/><rect x="650.05" y="314.10" width="1.9" height="1.20" fill="#089981"/><rect x="652.59" y="314.10" width="0.9" height="2.40" fill="#f23645"/><rect x="652.09" y="314.10" width="1.9" height="2.40" fill="#f23645"/><rect x="654.64" y="314.90" width="0.9" height="6.30" fill="#f23645"/><rect x="654.14" y="315.90" width="1.9" height="5.30" fill="#f23645"/><rect x="656.68" y="320.10" width="0.9" height="6.90" fill="#f23645"/><rect x="656.18" y="320.60" width="1.9" height="5.90" fill="#f23645"/><rect x="658.72" y="326.50" width="0.9" height="5.10" fill="#f23645"/><rect x="658.22" y="326.50" width="1.9" height="4.10" fill="#f23645"/><rect x="660.76" y="329.00" width="0.9" height="4.00" fill="#f23645"/><rect x="660.26" y="330.00" width="1.9" height="3.00" fill="#f23645"/><rect x="662.81" y="332.00" width="0.9" height="12.10" fill="#f23645"/><rect x="662.31" y="333.00" width="1.9" height="11.10" fill="#f23645"/><rect x="664.85" y="342.20" width="0.9" height="2.30" fill="#089981"/><rect x="664.35" y="342.70" width="1.9" height="1.80" fill="#089981"/><rect x="666.89" y="335.10" width="0.9" height="8.10" fill="#089981"/><rect x="666.39" y="335.60" width="1.9" height="7.10" fill="#089981"/><rect x="668.94" y="328.20" width="0.9" height="7.40" fill="#089981"/><rect x="668.44" y="329.20" width="1.9" height="6.40" fill="#089981"/><rect x="670.98" y="328.20" width="0.9" height="14.50" fill="#f23645"/><rect x="670.48" y="329.20" width="1.9" height="13.50" fill="#f23645"/><rect x="673.02" y="341.70" width="0.9" height="4.50" fill="#f23645"/><rect x="672.52" y="342.70" width="1.9" height="3.50" fill="#f23645"/><rect x="675.06" y="343.90" width="0.9" height="4.00" fill="#089981"/><rect x="674.56" y="343.90" width="1.9" height="3.50" fill="#089981"/><rect x="677.11" y="342.20" width="0.9" height="2.30" fill="#089981"/><rect x="676.61" y="342.70" width="1.9" height="1.80" fill="#089981"/><rect x="679.15" y="337.00" width="0.9" height="6.80" fill="#089981"/><rect x="678.65" y="338.00" width="1.9" height="5.30" fill="#089981"/><rect x="681.19" y="338.00" width="0.9" height="3.40" fill="#f23645"/><rect x="680.69" y="338.00" width="1.9" height="2.40" fill="#f23645"/><rect x="683.24" y="330.00" width="0.9" height="8.50" fill="#089981"/><rect x="682.74" y="331.00" width="1.9" height="7.00" fill="#089981"/><rect x="685.28" y="319.20" width="0.9" height="11.80" fill="#089981"/><rect x="684.78" y="319.20" width="1.9" height="11.80" fill="#089981"/><rect x="687.32" y="304.00" width="0.9" height="16.20" fill="#089981"/><rect x="686.82" y="304.50" width="1.9" height="14.70" fill="#089981"/><rect x="689.36" y="305.30" width="0.9" height="0.90" fill="#089981"/><rect x="688.86" y="305.25" width="1.9" height="1.00" fill="#089981"/><rect x="691.41" y="305.10" width="0.9" height="2.80" fill="#f23645"/><rect x="690.91" y="305.60" width="1.9" height="1.80" fill="#f23645"/><rect x="693.45" y="306.20" width="0.9" height="3.00" fill="#f23645"/><rect x="692.95" y="306.20" width="1.9" height="3.00" fill="#f23645"/><rect x="695.49" y="308.60" width="0.9" height="8.70" fill="#f23645"/><rect x="694.99" y="308.60" width="1.9" height="8.20" fill="#f23645"/><rect x="697.54" y="314.00" width="0.9" height="2.80" fill="#089981"/><rect x="697.04" y="314.50" width="1.9" height="2.30" fill="#089981"/><rect x="699.58" y="312.70" width="0.9" height="10.00" fill="#089981"/><rect x="699.08" y="312.70" width="1.9" height="2.90" fill="#089981"/><rect x="701.62" y="312.20" width="0.9" height="3.40" fill="#f23645"/><rect x="701.12" y="312.70" width="1.9" height="2.90" fill="#f23645"/><rect x="703.66" y="312.20" width="0.9" height="4.00" fill="#089981"/><rect x="703.16" y="312.70" width="1.9" height="3.50" fill="#089981"/><rect x="705.71" y="313.30" width="0.9" height="1.70" fill="#f23645"/><rect x="705.21" y="313.30" width="1.9" height="1.70" fill="#f23645"/><rect x="707.75" y="315.00" width="0.9" height="3.40" fill="#f23645"/><rect x="707.25" y="315.00" width="1.9" height="2.40" fill="#f23645"/><rect x="709.79" y="316.80" width="0.9" height="9.40" fill="#f23645"/><rect x="709.29" y="316.80" width="1.9" height="9.40" fill="#f23645"/><rect x="711.84" y="325.70" width="0.9" height="4.60" fill="#f23645"/><rect x="711.34" y="326.20" width="1.9" height="3.60" fill="#f23645"/><rect x="713.88" y="328.80" width="0.9" height="7.90" fill="#f23645"/><rect x="713.38" y="329.80" width="1.9" height="6.40" fill="#f23645"/><rect x="715.92" y="335.60" width="0.9" height="0.60" fill="#f23645"/><rect x="715.42" y="335.40" width="1.9" height="1.00" fill="#f23645"/><rect x="717.96" y="334.50" width="0.9" height="2.20" fill="#089981"/><rect x="717.46" y="334.50" width="1.9" height="1.70" fill="#089981"/><rect x="720.01" y="334.50" width="0.9" height="3.30" fill="#f23645"/><rect x="719.51" y="334.50" width="1.9" height="2.30" fill="#f23645"/><rect x="722.05" y="335.80" width="0.9" height="2.20" fill="#f23645"/><rect x="721.55" y="336.80" width="1.9" height="1.20" fill="#f23645"/><rect x="724.09" y="338.00" width="0.9" height="4.50" fill="#f23645"/><rect x="723.59" y="338.00" width="1.9" height="3.50" fill="#f23645"/><rect x="726.14" y="340.50" width="0.9" height="9.90" fill="#f23645"/><rect x="725.64" y="341.50" width="1.9" height="8.90" fill="#f23645"/><rect x="728.18" y="349.30" width="0.9" height="3.20" fill="#f23645"/><rect x="727.68" y="349.80" width="1.9" height="1.70" fill="#f23645"/><rect x="730.22" y="351.50" width="0.9" height="4.10" fill="#f23645"/><rect x="729.72" y="351.50" width="1.9" height="4.10" fill="#f23645"/><rect x="732.27" y="354.50" width="0.9" height="5.70" fill="#f23645"/><rect x="731.77" y="355.00" width="1.9" height="4.20" fill="#f23645"/><rect x="734.31" y="358.00" width="0.9" height="1.20" fill="#089981"/><rect x="733.81" y="358.00" width="1.9" height="1.20" fill="#089981"/><rect x="736.35" y="344.50" width="0.9" height="15.70" fill="#089981"/><rect x="735.85" y="346.20" width="1.9" height="13.00" fill="#089981"/><rect x="738.39" y="345.00" width="0.9" height="5.00" fill="#089981"/><rect x="737.89" y="346.00" width="1.9" height="4.00" fill="#089981"/><rect x="740.44" y="336.80" width="0.9" height="9.40" fill="#089981"/><rect x="739.94" y="336.80" width="1.9" height="9.40" fill="#089981"/><rect x="742.48" y="331.50" width="0.9" height="6.30" fill="#089981"/><rect x="741.98" y="331.50" width="1.9" height="5.30" fill="#089981"/><rect x="744.52" y="328.20" width="0.9" height="3.80" fill="#089981"/><rect x="744.02" y="329.20" width="1.9" height="2.30" fill="#089981"/><rect x="746.57" y="324.50" width="0.9" height="4.70" fill="#089981"/><rect x="746.07" y="325.00" width="1.9" height="4.20" fill="#089981"/><rect x="748.61" y="321.70" width="0.9" height="3.30" fill="#089981"/><rect x="748.11" y="322.70" width="1.9" height="2.30" fill="#089981"/><rect x="750.65" y="317.00" width="0.9" height="5.70" fill="#089981"/><rect x="750.15" y="318.00" width="1.9" height="4.70" fill="#089981"/><rect x="752.69" y="316.90" width="0.9" height="7.40" fill="#f23645"/><rect x="752.19" y="317.40" width="1.9" height="5.90" fill="#f23645"/><rect x="754.74" y="322.30" width="0.9" height="6.10" fill="#f23645"/><rect x="754.24" y="323.30" width="1.9" height="4.10" fill="#f23645"/><rect x="756.78" y="329.00" width="0.9" height="1.80" fill="#f23645"/><rect x="756.28" y="328.90" width="1.9" height="1.00" fill="#f23645"/><rect x="758.82" y="329.00" width="0.9" height="1.30" fill="#f23645"/><rect x="758.32" y="328.90" width="1.9" height="1.00" fill="#f23645"/><rect x="760.87" y="329.20" width="0.9" height="1.80" fill="#f23645"/><rect x="760.37" y="329.10" width="1.9" height="1.00" fill="#f23645"/><rect x="762.91" y="328.80" width="0.9" height="12.20" fill="#f23645"/><rect x="762.41" y="329.80" width="1.9" height="11.20" fill="#f23645"/><rect x="764.95" y="340.40" width="0.9" height="1.60" fill="#089981"/><rect x="764.45" y="340.40" width="1.9" height="1.10" fill="#089981"/><rect x="766.99" y="332.70" width="0.9" height="10.00" fill="#089981"/><rect x="766.49" y="332.70" width="1.9" height="10.00" fill="#089981"/><rect x="769.04" y="323.30" width="0.9" height="9.90" fill="#089981"/><rect x="768.54" y="323.30" width="1.9" height="9.40" fill="#089981"/><rect x="771.08" y="319.80" width="0.9" height="4.50" fill="#089981"/><rect x="770.58" y="319.80" width="1.9" height="3.50" fill="#089981"/><rect x="773.12" y="319.80" width="0.9" height="2.70" fill="#f23645"/><rect x="772.62" y="319.80" width="1.9" height="1.70" fill="#f23645"/><rect x="775.17" y="323.30" width="0.9" height="6.40" fill="#f23645"/><rect x="774.67" y="323.30" width="1.9" height="5.90" fill="#f23645"/><rect x="777.21" y="328.10" width="0.9" height="4.40" fill="#f23645"/><rect x="776.71" y="328.60" width="1.9" height="2.90" fill="#f23645"/><rect x="779.25" y="330.00" width="0.9" height="11.50" fill="#f23645"/><rect x="778.75" y="331.00" width="1.9" height="10.50" fill="#f23645"/><rect x="781.29" y="340.80" width="0.9" height="2.20" fill="#089981"/><rect x="780.79" y="340.80" width="1.9" height="1.20" fill="#089981"/><rect x="783.34" y="340.20" width="0.9" height="1.70" fill="#f23645"/><rect x="782.84" y="340.20" width="1.9" height="1.20" fill="#f23645"/><rect x="785.38" y="339.00" width="0.9" height="2.90" fill="#089981"/><rect x="784.88" y="339.00" width="1.9" height="2.40" fill="#089981"/><rect x="787.42" y="338.50" width="0.9" height="2.70" fill="#f23645"/><rect x="786.92" y="339.00" width="1.9" height="1.20" fill="#f23645"/><rect x="789.47" y="338.60" width="0.9" height="2.80" fill="#f23645"/><rect x="788.97" y="339.60" width="1.9" height="1.80" fill="#f23645"/><rect x="791.51" y="341.40" width="0.9" height="3.00" fill="#f23645"/><rect x="791.01" y="341.40" width="1.9" height="3.00" fill="#f23645"/><rect x="793.55" y="339.20" width="0.9" height="6.20" fill="#089981"/><rect x="793.05" y="340.20" width="1.9" height="4.20" fill="#089981"/><rect x="795.60" y="335.00" width="0.9" height="5.70" fill="#089981"/><rect x="795.10" y="335.50" width="1.9" height="4.70" fill="#089981"/><rect x="797.64" y="325.00" width="0.9" height="10.50" fill="#089981"/><rect x="797.14" y="325.00" width="1.9" height="10.50" fill="#089981"/><rect x="799.68" y="318.50" width="0.9" height="7.50" fill="#089981"/><rect x="799.18" y="319.00" width="1.9" height="6.00" fill="#089981"/><rect x="801.72" y="315.00" width="0.9" height="5.00" fill="#089981"/><rect x="801.22" y="315.00" width="1.9" height="4.00" fill="#089981"/><rect x="803.77" y="312.80" width="0.9" height="2.20" fill="#f23645"/><rect x="803.27" y="313.80" width="1.9" height="1.20" fill="#f23645"/><rect x="805.81" y="315.00" width="0.9" height="1.10" fill="#f23645"/><rect x="805.31" y="315.00" width="1.9" height="1.10" fill="#f23645"/><rect x="807.85" y="313.80" width="0.9" height="1.70" fill="#089981"/><rect x="807.35" y="313.80" width="1.9" height="1.70" fill="#089981"/><rect x="809.90" y="311.60" width="0.9" height="3.90" fill="#089981"/><rect x="809.40" y="312.60" width="1.9" height="2.90" fill="#089981"/><rect x="811.94" y="312.60" width="0.9" height="4.00" fill="#f23645"/><rect x="811.44" y="312.60" width="1.9" height="3.50" fill="#f23645"/><rect x="813.98" y="316.90" width="0.9" height="11.40" fill="#f23645"/><rect x="813.48" y="317.90" width="1.9" height="9.40" fill="#f23645"/><rect x="816.02" y="319.70" width="0.9" height="5.80" fill="#089981"/><rect x="815.52" y="320.20" width="1.9" height="5.30" fill="#089981"/><rect x="818.07" y="315.70" width="0.9" height="5.00" fill="#089981"/><rect x="817.57" y="316.70" width="1.9" height="3.50" fill="#089981"/><rect x="820.11" y="312.60" width="0.9" height="4.60" fill="#089981"/><rect x="819.61" y="312.60" width="1.9" height="4.10" fill="#089981"/><rect x="822.15" y="311.60" width="0.9" height="2.10" fill="#089981"/><rect x="821.65" y="312.40" width="1.9" height="1.00" fill="#089981"/><rect x="824.20" y="312.20" width="0.9" height="3.30" fill="#f23645"/><rect x="823.70" y="313.20" width="1.9" height="2.30" fill="#f23645"/><rect x="826.24" y="311.60" width="0.9" height="3.90" fill="#089981"/><rect x="825.74" y="312.60" width="1.9" height="2.90" fill="#089981"/><rect x="828.28" y="312.10" width="0.9" height="1.60" fill="#089981"/><rect x="827.78" y="312.40" width="1.9" height="1.00" fill="#089981"/><rect x="830.32" y="312.60" width="0.9" height="5.80" fill="#f23645"/><rect x="829.82" y="312.60" width="1.9" height="5.30" fill="#f23645"/><rect x="832.37" y="319.70" width="0.9" height="3.30" fill="#f23645"/><rect x="831.87" y="320.20" width="1.9" height="1.80" fill="#f23645"/><rect x="834.41" y="324.50" width="0.9" height="5.00" fill="#f23645"/><rect x="833.91" y="325.50" width="1.9" height="3.00" fill="#f23645"/><rect x="836.45" y="326.70" width="0.9" height="1.70" fill="#089981"/><rect x="835.95" y="326.70" width="1.9" height="1.20" fill="#089981"/><rect x="838.50" y="318.50" width="0.9" height="9.30" fill="#089981"/><rect x="838.00" y="318.50" width="1.9" height="8.80" fill="#089981"/><rect x="840.54" y="316.30" width="0.9" height="2.70" fill="#f23645"/><rect x="840.04" y="317.30" width="1.9" height="1.70" fill="#f23645"/><rect x="842.58" y="314.40" width="0.9" height="5.70" fill="#089981"/><rect x="842.08" y="314.40" width="1.9" height="5.20" fill="#089981"/><rect x="844.62" y="313.20" width="0.9" height="11.70" fill="#f23645"/><rect x="844.12" y="313.20" width="1.9" height="11.20" fill="#f23645"/><rect x="846.67" y="323.20" width="0.9" height="1.20" fill="#f23645"/><rect x="846.17" y="323.20" width="1.9" height="1.20" fill="#f23645"/><rect x="848.71" y="321.40" width="0.9" height="3.00" fill="#089981"/><rect x="848.21" y="321.40" width="1.9" height="3.00" fill="#089981"/><rect x="850.75" y="320.30" width="0.9" height="1.60" fill="#089981"/><rect x="850.25" y="320.60" width="1.9" height="1.00" fill="#089981"/><rect x="852.80" y="320.20" width="0.9" height="0.80" fill="#089981"/><rect x="852.30" y="320.10" width="1.9" height="1.00" fill="#089981"/><rect x="854.84" y="318.50" width="0.9" height="2.30" fill="#089981"/><rect x="854.34" y="318.50" width="1.9" height="2.30" fill="#089981"/><rect x="856.88" y="316.90" width="0.9" height="2.10" fill="#089981"/><rect x="856.38" y="317.70" width="1.9" height="1.00" fill="#089981"/><rect x="858.93" y="317.50" width="0.9" height="0.70" fill="#089981"/><rect x="858.43" y="317.35" width="1.9" height="1.00" fill="#089981"/><rect x="860.97" y="315.10" width="0.9" height="3.40" fill="#089981"/><rect x="860.47" y="316.10" width="1.9" height="2.40" fill="#089981"/><rect x="863.01" y="315.50" width="0.9" height="1.70" fill="#089981"/><rect x="862.51" y="315.50" width="1.9" height="1.20" fill="#089981"/><rect x="865.05" y="312.00" width="0.9" height="4.50" fill="#089981"/><rect x="864.55" y="312.00" width="1.9" height="3.50" fill="#089981"/><rect x="867.10" y="303.20" width="0.9" height="8.80" fill="#089981"/><rect x="866.60" y="303.20" width="1.9" height="8.80" fill="#089981"/><rect x="869.14" y="302.20" width="0.9" height="1.60" fill="#089981"/><rect x="868.64" y="303.00" width="1.9" height="1.00" fill="#089981"/><rect x="871.18" y="303.20" width="0.9" height="1.10" fill="#f23645"/><rect x="870.68" y="303.00" width="1.9" height="1.00" fill="#f23645"/><rect x="873.23" y="300.40" width="0.9" height="3.40" fill="#089981"/><rect x="872.73" y="301.40" width="1.9" height="2.40" fill="#089981"/><rect x="875.27" y="300.20" width="0.9" height="4.60" fill="#f23645"/><rect x="874.77" y="300.20" width="1.9" height="3.60" fill="#f23645"/><rect x="877.31" y="298.60" width="0.9" height="5.20" fill="#089981"/><rect x="876.81" y="299.60" width="1.9" height="4.20" fill="#089981"/><rect x="879.35" y="299.20" width="0.9" height="7.30" fill="#f23645"/><rect x="878.85" y="300.20" width="1.9" height="5.30" fill="#f23645"/><rect x="881.40" y="305.50" width="0.9" height="3.40" fill="#f23645"/><rect x="880.90" y="305.50" width="1.9" height="2.40" fill="#f23645"/><rect x="883.44" y="308.50" width="0.9" height="9.20" fill="#f23645"/><rect x="882.94" y="308.50" width="1.9" height="8.20" fill="#f23645"/><rect x="885.48" y="310.20" width="0.9" height="4.80" fill="#089981"/><rect x="884.98" y="310.20" width="1.9" height="4.80" fill="#089981"/><rect x="887.53" y="310.20" width="0.9" height="4.70" fill="#f23645"/><rect x="887.03" y="310.20" width="1.9" height="4.20" fill="#f23645"/><rect x="889.57" y="312.20" width="0.9" height="2.60" fill="#089981"/><rect x="889.07" y="313.00" width="1.9" height="1.00" fill="#089981"/><rect x="891.61" y="312.70" width="0.9" height="2.70" fill="#f23645"/><rect x="891.11" y="313.20" width="1.9" height="1.20" fill="#f23645"/><rect x="893.65" y="316.20" width="0.9" height="2.10" fill="#f23645"/><rect x="893.15" y="316.50" width="1.9" height="1.00" fill="#f23645"/><rect x="895.70" y="316.90" width="0.9" height="11.90" fill="#f23645"/><rect x="895.20" y="317.90" width="1.9" height="8.50" fill="#f23645"/><rect x="897.74" y="323.60" width="0.9" height="2.80" fill="#089981"/><rect x="897.24" y="323.60" width="1.9" height="2.80" fill="#089981"/><rect x="899.78" y="322.10" width="0.9" height="1.90" fill="#089981"/><rect x="899.28" y="322.60" width="1.9" height="1.40" fill="#089981"/><rect x="901.83" y="314.10" width="0.9" height="11.40" fill="#089981"/><rect x="901.33" y="314.10" width="1.9" height="11.40" fill="#089981"/><rect x="903.87" y="313.10" width="0.9" height="1.50" fill="#089981"/><rect x="903.37" y="313.60" width="1.9" height="1.00" fill="#089981"/><rect x="905.91" y="313.10" width="0.9" height="5.30" fill="#f23645"/><rect x="905.41" y="314.10" width="1.9" height="3.30" fill="#f23645"/><rect x="907.95" y="317.40" width="0.9" height="1.00" fill="#089981"/><rect x="907.45" y="317.40" width="1.9" height="1.00" fill="#089981"/><rect x="910.00" y="310.30" width="0.9" height="9.10" fill="#089981"/><rect x="909.50" y="310.30" width="1.9" height="8.10" fill="#089981"/><rect x="912.04" y="309.80" width="0.9" height="1.90" fill="#f23645"/><rect x="911.54" y="309.80" width="1.9" height="1.40" fill="#f23645"/><rect x="914.08" y="310.80" width="0.9" height="4.30" fill="#f23645"/><rect x="913.58" y="310.80" width="1.9" height="3.80" fill="#f23645"/><rect x="916.13" y="314.10" width="0.9" height="3.40" fill="#f23645"/><rect x="915.63" y="314.60" width="1.9" height="1.90" fill="#f23645"/><rect x="918.17" y="316.00" width="0.9" height="4.80" fill="#f23645"/><rect x="917.67" y="316.00" width="1.9" height="4.30" fill="#f23645"/><rect x="920.21" y="321.20" width="0.9" height="8.60" fill="#f23645"/><rect x="919.71" y="322.20" width="1.9" height="7.10" fill="#f23645"/><rect x="922.25" y="325.00" width="0.9" height="3.80" fill="#089981"/><rect x="921.75" y="326.00" width="1.9" height="2.30" fill="#089981"/><rect x="924.30" y="326.00" width="0.9" height="1.50" fill="#089981"/><rect x="923.80" y="326.00" width="1.9" height="1.00" fill="#089981"/><rect x="926.34" y="324.00" width="0.9" height="3.40" fill="#f23645"/><rect x="925.84" y="324.50" width="1.9" height="2.40" fill="#f23645"/><rect x="928.38" y="325.40" width="0.9" height="3.90" fill="#f23645"/><rect x="927.88" y="326.40" width="1.9" height="1.90" fill="#f23645"/><rect x="930.43" y="316.50" width="0.9" height="12.30" fill="#089981"/><rect x="929.93" y="317.00" width="1.9" height="11.30" fill="#089981"/><rect x="932.47" y="304.10" width="0.9" height="13.40" fill="#089981"/><rect x="931.97" y="316.00" width="1.9" height="1.00" fill="#089981"/><rect x="934.51" y="316.00" width="0.9" height="1.50" fill="#089981"/><rect x="934.01" y="315.75" width="1.9" height="1.00" fill="#089981"/><rect x="936.56" y="315.50" width="0.9" height="1.50" fill="#089981"/><rect x="936.06" y="315.50" width="1.9" height="1.00" fill="#089981"/><rect x="938.60" y="317.40" width="0.9" height="2.40" fill="#f23645"/><rect x="938.10" y="317.40" width="1.9" height="1.90" fill="#f23645"/><rect x="940.64" y="318.80" width="0.9" height="5.70" fill="#f23645"/><rect x="940.14" y="319.30" width="1.9" height="5.20" fill="#f23645"/><rect x="942.68" y="320.70" width="0.9" height="3.80" fill="#089981"/><rect x="942.18" y="320.70" width="1.9" height="3.80" fill="#089981"/><rect x="944.73" y="319.70" width="0.9" height="14.80" fill="#f23645"/><rect x="944.23" y="320.70" width="1.9" height="12.80" fill="#f23645"/><rect x="946.77" y="330.20" width="0.9" height="4.30" fill="#089981"/><rect x="946.27" y="330.20" width="1.9" height="3.30" fill="#089981"/><rect x="948.81" y="323.10" width="0.9" height="7.10" fill="#089981"/><rect x="948.31" y="323.60" width="1.9" height="6.60" fill="#089981"/><rect x="950.86" y="313.10" width="0.9" height="10.50" fill="#089981"/><rect x="950.36" y="313.10" width="1.9" height="10.50" fill="#089981"/><rect x="952.90" y="310.80" width="0.9" height="9.50" fill="#f23645"/><rect x="952.40" y="310.80" width="1.9" height="8.50" fill="#f23645"/><rect x="954.94" y="312.20" width="0.9" height="8.60" fill="#089981"/><rect x="954.44" y="312.20" width="1.9" height="7.60" fill="#089981"/><rect x="956.98" y="311.20" width="0.9" height="1.00" fill="#089981"/><rect x="956.48" y="311.20" width="1.9" height="1.00" fill="#089981"/><rect x="959.03" y="301.30" width="0.9" height="9.90" fill="#089981"/><rect x="958.53" y="301.30" width="1.9" height="9.90" fill="#089981"/><rect x="961.07" y="293.20" width="0.9" height="8.10" fill="#089981"/><rect x="960.57" y="294.20" width="1.9" height="7.10" fill="#089981"/><rect x="963.11" y="294.20" width="0.9" height="12.80" fill="#f23645"/><rect x="962.61" y="294.20" width="1.9" height="12.80" fill="#f23645"/><rect x="965.16" y="307.00" width="0.9" height="7.60" fill="#f23645"/><rect x="964.66" y="307.00" width="1.9" height="6.60" fill="#f23645"/>
</g>
<rect x="0" y="0" width="2" height="527" fill="#e6e6e6"/>
<rect x="1022.5" y="0" width="1.5" height="527" fill="#ededed"/>
<!-- price axis -->
<g font-size="9.7" fill="#131722" stroke="#131722" stroke-width="0.25"><text x="992.9" y="4.13" textLength="24.4" lengthAdjust="spacingAndGlyphs">89,400</text><text x="992.9" y="29.85" textLength="24.4" lengthAdjust="spacingAndGlyphs">89,300</text><text x="992.9" y="55.57" textLength="24.4" lengthAdjust="spacingAndGlyphs">89,200</text><text x="992.9" y="81.29" textLength="24.4" lengthAdjust="spacingAndGlyphs">89,100</text><text x="992.9" y="107.01" textLength="24.4" lengthAdjust="spacingAndGlyphs">89,000</text><text x="992.9" y="132.73" textLength="24.4" lengthAdjust="spacingAndGlyphs">88,900</text><text x="992.9" y="158.45" textLength="24.4" lengthAdjust="spacingAndGlyphs">88,800</text><text x="992.9" y="184.17" textLength="24.4" lengthAdjust="spacingAndGlyphs">88,700</text><text x="992.9" y="209.89" textLength="24.4" lengthAdjust="spacingAndGlyphs">88,600</text><text x="992.9" y="235.61" textLength="24.4" lengthAdjust="spacingAndGlyphs">88,500</text><text x="992.9" y="261.33" textLength="24.4" lengthAdjust="spacingAndGlyphs">88,400</text><text x="992.9" y="287.05" textLength="24.4" lengthAdjust="spacingAndGlyphs">88,300</text><text x="992.9" y="312.77" textLength="24.4" lengthAdjust="spacingAndGlyphs">88,200</text><text x="992.9" y="338.49" textLength="24.4" lengthAdjust="spacingAndGlyphs">88,100</text><text x="992.9" y="364.21" textLength="24.4" lengthAdjust="spacingAndGlyphs">88,000</text><text x="992.9" y="389.93" textLength="24.4" lengthAdjust="spacingAndGlyphs">87,900</text><text x="992.9" y="415.65" textLength="24.4" lengthAdjust="spacingAndGlyphs">87,800</text><text x="992.9" y="441.37" textLength="24.4" lengthAdjust="spacingAndGlyphs">87,700</text><text x="992.9" y="467.09" textLength="24.4" lengthAdjust="spacingAndGlyphs">87,600</text><text x="992.9" y="492.81" textLength="24.4" lengthAdjust="spacingAndGlyphs">87,500</text></g>
<!-- time axis -->
<g font-size="9.4" fill="#131722" stroke="#131722" stroke-width="0.25" clip-path="url(#taxis)"><text x="54.10" y="522.9" textLength="20.2" lengthAdjust="spacingAndGlyphs">00:30</text><text x="115.20" y="522.9" textLength="20.2" lengthAdjust="spacingAndGlyphs">01:00</text><text x="176.90" y="522.9" textLength="20.2" lengthAdjust="spacingAndGlyphs">01:30</text><text x="238.10" y="522.9" textLength="20.2" lengthAdjust="spacingAndGlyphs">02:00</text><text x="299.60" y="522.9" textLength="20.2" lengthAdjust="spacingAndGlyphs">02:30</text><text x="360.90" y="522.9" textLength="20.2" lengthAdjust="spacingAndGlyphs">03:00</text><text x="422.10" y="522.9" textLength="20.2" lengthAdjust="spacingAndGlyphs">03:30</text><text x="483.00" y="522.9" textLength="20.2" lengthAdjust="spacingAndGlyphs">04:00</text><text x="544.10" y="522.9" textLength="20.2" lengthAdjust="spacingAndGlyphs">04:30</text><text x="606.10" y="522.9" textLength="20.2" lengthAdjust="spacingAndGlyphs">05:00</text><text x="666.90" y="522.9" textLength="20.2" lengthAdjust="spacingAndGlyphs">05:30</text><text x="728.70" y="522.9" textLength="20.2" lengthAdjust="spacingAndGlyphs">06:00</text><text x="790.10" y="522.9" textLength="20.2" lengthAdjust="spacingAndGlyphs">06:30</text><text x="850.90" y="522.9" textLength="20.2" lengthAdjust="spacingAndGlyphs">07:00</text><text x="912.90" y="522.9" textLength="20.2" lengthAdjust="spacingAndGlyphs">07:30</text>
<text x="-0.6" y="522.9" textLength="7.9" lengthAdjust="spacingAndGlyphs">29</text>
<text x="973.4" y="522.9" textLength="20.2" lengthAdjust="spacingAndGlyphs">08:00</text></g>
<!-- current price label -->
<path d="M987.7 308.1 H1018.9 a1.5 1.5 0 0 1 1.5 1.5 V327.2 a1.5 1.5 0 0 1 -1.5 1.5 H987.7 Z" fill="#f23645"/>
<text x="993.2" y="316.8" font-size="9.6" fill="#fff" stroke="#fff" stroke-width="0.3" textLength="23.6" lengthAdjust="spacingAndGlyphs">88,186</text>
<text x="993.2" y="325.8" font-size="9.6" fill="#fff" stroke="#fff" stroke-width="0.2" textLength="19.6" lengthAdjust="spacingAndGlyphs">00:04</text>
<!-- volume price label -->
<path d="M987.7 500.3 H999.6 a1.4 1.4 0 0 1 1.4 1.4 V510.6 H987.7 Z" fill="#f23645"/>
<text x="991.6" y="508.9" font-size="9.4" fill="#fff">0</text>
<!-- settings icon -->
<g transform="translate(1005.4 520)" fill="none" stroke="#131722" stroke-width="0.9">
<path d="M-5 0 L-2.5 -4.3 L2.5 -4.3 L5 0 L2.5 4.3 L-2.5 4.3 Z"/><circle r="1.5"/></g>
<!-- header -->
<circle cx="14.15" cy="8.75" r="6.2" fill="#f7931a"/>
<text x="14.2" y="11.7" font-size="8.2" font-weight="bold" fill="#fff" text-anchor="middle" transform="rotate(14 14.15 8.75)" textLength="5.4" lengthAdjust="spacingAndGlyphs">₿</text>
<text x="23.2" y="12.9" font-size="10.6" fill="#131722" stroke="#131722" stroke-width="0.2" textLength="161.8" lengthAdjust="spacing">Bitcoin / U.S. Dollar · 1 · Bitstamp</text>
<circle cx="196.9" cy="8.8" r="6.2" fill="#dff2ee"/><circle cx="196.9" cy="8.8" r="2.8" fill="#089981"/>
<g font-size="9.9">
<text x="208.2" y="12.3" fill="#2a2e39" font-weight="bold" textLength="5.6" lengthAdjust="spacingAndGlyphs">O</text><text x="215" y="12.3" fill="#f23645" textLength="26" lengthAdjust="spacingAndGlyphs">88,213</text>
<text x="244.9" y="12.3" fill="#2a2e39" font-weight="bold" textLength="5.8" lengthAdjust="spacingAndGlyphs">H</text><text x="251.6" y="12.3" fill="#f23645" textLength="26" lengthAdjust="spacingAndGlyphs">88,213</text>
<text x="282" y="12.3" fill="#2a2e39" font-weight="bold" textLength="4.2" lengthAdjust="spacingAndGlyphs">L</text><text x="286.8" y="12.3" fill="#f23645" textLength="26.4" lengthAdjust="spacingAndGlyphs">88,186</text>
<text x="317.2" y="12.3" fill="#2a2e39" font-weight="bold" textLength="5.4" lengthAdjust="spacingAndGlyphs">C</text><text x="323.4" y="12.3" fill="#f23645" textLength="26" lengthAdjust="spacingAndGlyphs">88,186</text>
<text x="353.9" y="12.3" fill="#f23645" textLength="13.4" lengthAdjust="spacingAndGlyphs">−27</text>
<text x="370.4" y="12.3" fill="#f23645" textLength="32.6" lengthAdjust="spacingAndGlyphs">(−0.03%)</text>
</g>
<rect x="7.6" y="19.9" width="40.8" height="22" rx="3.8" fill="#fff" stroke="#f7a1a8" stroke-width="1"/>
<text x="14.8" y="29.2" font-size="8.4" fill="#f23645" textLength="26.6" lengthAdjust="spacingAndGlyphs">88,188</text>
<text x="20" y="39.1" font-size="8.2" fill="#f5505c" textLength="15.7" lengthAdjust="spacingAndGlyphs">SELL</text>
<text x="55" y="32.8" font-size="7" fill="#131722">1</text>
<rect x="63.8" y="19.9" width="40.8" height="22" rx="3.8" fill="#fff" stroke="#8fadff" stroke-width="1"/>
<text x="70.8" y="29.2" font-size="8.4" fill="#2962ff" textLength="26.3" lengthAdjust="spacingAndGlyphs">88,189</text>
<text x="77" y="39.1" font-size="8.2" fill="#3d6ff5" textLength="13.2" lengthAdjust="spacingAndGlyphs">BUY</text>
<text x="8.2" y="56.5" font-size="10" fill="#131722" stroke="#131722" stroke-width="0.15" textLength="36.2" lengthAdjust="spacingAndGlyphs">Vol · BTC</text>
<text x="49.3" y="56.5" font-size="10" fill="#f7525f">0</text>
<rect x="7.4" y="63.5" width="19.1" height="13.7" rx="2" fill="#fff" fill-opacity="0.8" stroke="#e3e3e3" stroke-width="0.8"/>
<path d="M14.6 71.7 L17.3 69.1 L20 71.7" fill="none" stroke="#2a2e39" stroke-width="1.2"/>
<!-- TV logo -->
<g transform="translate(10 489) scale(0.555)" fill="#131722" stroke="#fff" stroke-width="6" stroke-linejoin="round" paint-order="stroke"><path d="M14 22H7V11H0V4h14v18zM28 22h-8l7.5-18h8L28 22z"/><circle cx="20" cy="8" r="4"/></g>
<text x="35.6" y="500.6" font-size="12.7" font-weight="bold" fill="#131722" stroke="#fff" stroke-width="3.6" stroke-linejoin="round" paint-order="stroke" textLength="80.6" lengthAdjust="spacingAndGlyphs">TradingView</text>
<!-- lightning icon -->
<circle cx="966.06" cy="502.1" r="6.4" fill="#fff" stroke="#a23bbd" stroke-width="1.05"/>
<path transform="translate(966.06 502.1)" d="M2.0 -3.4 L-2.9 0.7 L-0.1 0.7 L-2.3 3.7 L2.6 -0.3 L-0.2 -0.3 Z" fill="#a23bbd"/>
<path transform="translate(958.55 504.5)" d="M0 -3.3 Q0.6 -0.6 3.5 0 Q0.6 0.6 0 3.3 Q-0.6 0.6 -3.5 0 Q-0.6 -0.6 0 -3.3 Z" fill="#6e3cf7" stroke="#fff" stroke-width="2" paint-order="stroke"/>
</svg>
</body></html>
